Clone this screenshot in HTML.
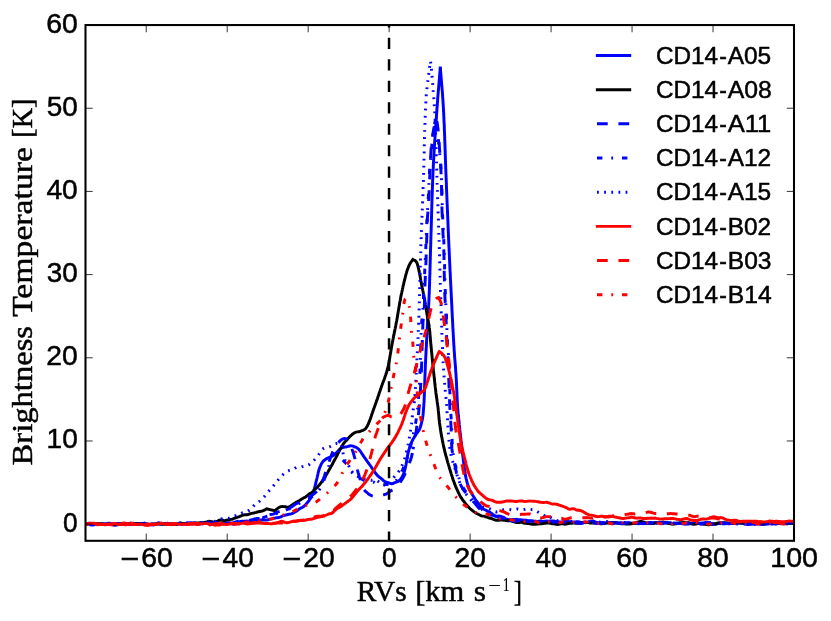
<!DOCTYPE html>
<html lang="en"><head><meta charset="utf-8"><title>Brightness Temperature vs RVs</title>
<style>html,body{margin:0;padding:0;background:#fff}body{width:831px;height:621px;overflow:hidden}svg{display:block;will-change:transform}text{font-family:"Liberation Sans",sans-serif;fill:#000}.sf{font-family:"Liberation Serif",serif}</style></head><body>
<svg width="831" height="621" viewBox="0 0 831 621">
<rect width="831" height="621" fill="#fff"/>
<defs><clipPath id="ax"><rect x="85.50" y="25.05" width="708.50" height="515.75"/></clipPath></defs>
<g clip-path="url(#ax)" fill="none" stroke-width="2.950" stroke-linejoin="miter" stroke-miterlimit="3">
<path id="A05" d="M85.6 524.2 L86.8 524.1 L88.0 523.9 L89.2 523.8 L90.4 523.8 L91.6 523.8 L92.8 523.9 L94.0 524.0 L95.2 524.0 L96.4 524.1 L97.6 524.2 L98.8 524.3 L100.0 524.2 L101.2 524.3 L102.4 524.1 L103.6 524.1 L104.8 524.0 L106.0 523.9 L107.2 523.7 L108.4 523.3 L109.6 523.3 L110.8 523.5 L112.0 524.1 L113.2 524.8 L114.4 525.1 L115.6 525.2 L116.8 524.9 L118.0 524.7 L119.2 524.4 L120.4 524.2 L121.6 524.0 L122.8 523.9 L124.0 524.0 L125.2 524.1 L126.4 524.3 L127.6 524.4 L128.9 524.3 L130.1 524.3 L131.3 524.2 L132.5 524.1 L133.7 523.9 L134.9 523.7 L136.1 523.5 L137.3 523.5 L138.5 523.5 L139.7 523.7 L140.9 523.9 L142.1 524.0 L143.3 524.1 L144.5 524.1 L145.7 524.1 L146.9 524.1 L148.1 524.2 L149.3 524.5 L150.5 524.7 L151.7 524.9 L152.9 525.0 L154.1 524.7 L155.3 524.4 L156.5 524.1 L157.7 523.9 L158.9 523.9 L160.1 524.0 L161.3 523.9 L162.5 523.9 L163.7 523.8 L164.9 523.8 L166.1 523.7 L167.3 523.8 L168.5 523.9 L169.7 524.0 L170.9 524.2 L172.1 524.5 L173.3 524.6 L174.5 524.6 L175.7 524.5 L176.9 524.1 L178.1 524.0 L179.3 524.0 L180.5 524.0 L181.7 524.3 L182.9 524.2 L184.1 523.8 L185.3 523.6 L186.5 523.3 L187.7 523.2 L188.9 523.4 L190.2 523.6 L191.4 523.7 L192.6 523.7 L193.8 523.8 L195.0 523.8 L196.2 523.9 L197.4 524.0 L198.6 524.0 L199.8 524.1 L201.0 523.9 L202.2 523.8 L203.4 523.5 L204.6 523.1 L205.8 523.1 L207.0 522.9 L208.2 523.1 L209.4 523.3 L210.6 523.5 L211.8 523.7 L213.0 523.8 L214.2 523.8 L215.4 523.8 L216.6 523.8 L217.8 523.9 L219.0 523.9 L220.2 523.9 L221.4 523.7 L222.6 523.5 L223.8 523.4 L225.0 523.2 L226.2 523.2 L227.4 523.0 L228.6 522.9 L229.8 523.0 L231.0 523.3 L232.1 523.8 L233.3 524.2 L234.5 524.1 L235.7 524.0 L236.9 523.7 L238.1 523.3 L239.3 523.0 L240.5 522.6 L241.7 522.0 L242.9 521.5 L244.1 521.2 L245.3 521.1 L246.5 521.0 L247.7 521.3 L248.8 521.6 L250.0 521.6 L251.2 521.6 L252.4 521.3 L253.6 520.7 L254.8 520.2 L256.0 520.1 L257.2 520.0 L258.4 520.1 L259.6 520.1 L260.8 519.9 L262.0 519.9 L263.2 519.9 L264.4 520.0 L265.6 520.1 L266.8 520.0 L268.0 519.8 L269.2 519.4 L270.4 519.1 L271.6 518.9 L272.8 518.5 L274.0 518.3 L275.1 518.1 L276.3 517.7 L277.5 517.8 L278.7 517.5 L279.8 517.2 L281.0 516.8 L282.2 516.0 L283.4 515.6 L284.5 515.3 L285.7 515.0 L286.8 514.8 L288.0 514.5 L289.1 514.2 L290.2 514.1 L291.3 513.8 L292.4 513.3 L293.5 512.8 L294.5 512.3 L295.6 511.7 L296.6 511.1 L297.7 510.4 L298.7 509.5 L299.7 508.7 L300.7 508.1 L301.6 507.7 L302.6 507.2 L303.6 506.6 L304.5 505.7 L305.5 504.7 L306.4 503.8 L307.2 502.8 L308.0 501.9 L308.7 501.0 L309.4 500.0 L310.0 499.1 L310.6 498.0 L311.1 496.9 L311.6 495.8 L312.1 494.7 L312.6 493.6 L313.1 492.4 L313.5 491.3 L313.9 490.1 L314.3 489.0 L314.6 487.9 L314.9 486.7 L315.2 485.6 L315.5 484.4 L315.8 483.2 L316.0 482.0 L316.3 480.9 L316.6 479.7 L316.9 478.5 L317.2 477.3 L317.4 476.2 L317.7 475.0 L318.0 473.8 L318.2 472.6 L318.5 471.5 L318.9 470.3 L319.2 469.2 L319.6 468.0 L320.0 466.9 L320.5 465.8 L321.0 464.6 L321.6 463.6 L322.2 462.5 L322.9 461.6 L323.7 460.7 L324.7 460.0 L325.7 459.3 L326.7 458.6 L327.8 458.0 L328.8 457.6 L329.9 457.2 L331.0 456.7 L332.1 456.2 L333.2 455.5 L334.2 454.7 L335.1 453.9 L336.0 453.1 L336.9 452.2 L337.8 451.2 L338.7 450.3 L339.6 449.4 L340.6 448.6 L341.6 448.0 L342.6 447.5 L343.7 447.2 L344.8 447.0 L345.9 447.0 L347.1 446.7 L348.3 446.3 L349.5 446.0 L350.7 445.8 L351.9 445.9 L353.0 446.1 L354.2 446.6 L355.4 447.0 L356.4 447.6 L357.4 448.2 L358.3 448.9 L359.1 449.7 L359.8 450.5 L360.5 451.5 L361.2 452.5 L361.9 453.6 L362.6 454.6 L363.2 455.7 L363.9 456.7 L364.6 457.7 L365.3 458.6 L366.0 459.6 L366.7 460.6 L367.4 461.6 L368.1 462.6 L368.8 463.5 L369.5 464.5 L370.2 465.5 L370.9 466.5 L371.6 467.5 L372.2 468.5 L372.9 469.5 L373.6 470.5 L374.4 471.5 L375.1 472.5 L375.8 473.6 L376.6 474.5 L377.4 475.4 L378.2 476.2 L379.0 476.9 L379.8 477.5 L380.7 478.2 L381.7 479.0 L382.7 479.9 L383.8 480.9 L384.9 481.6 L386.0 482.0 L387.1 482.3 L388.2 482.7 L389.4 483.2 L390.6 483.6 L391.7 483.7 L392.9 483.5 L394.1 482.9 L395.3 482.5 L396.4 482.0 L397.5 481.7 L398.5 481.2 L399.4 480.4 L400.3 479.4 L401.1 478.4 L401.9 477.3 L402.4 476.3 L403.0 475.3 L403.5 474.2 L403.9 473.0 L404.3 471.9 L404.6 470.7 L404.9 469.6 L405.2 468.4 L405.5 467.2 L405.7 466.0 L406.0 464.8 L406.2 463.7 L406.4 462.5 L406.6 461.3 L406.8 460.1 L407.0 458.9 L407.2 457.7 L407.4 456.6 L407.6 455.4 L407.9 454.2 L408.1 453.0 L408.4 451.9 L408.7 450.7 L409.0 449.5 L409.4 448.4 L409.7 447.2 L410.1 446.1 L410.5 445.0 L410.9 443.8 L411.4 442.7 L411.9 441.6 L412.4 440.5 L412.9 439.5 L413.5 438.4 L414.1 437.4 L414.7 436.4 L415.4 435.3 L416.1 434.3 L416.7 433.3 L417.5 432.3 L418.2 431.3 L418.9 430.4 L419.5 429.4 L419.9 428.3 L420.3 427.2 L420.7 426.0 L421.0 424.8 L421.3 423.7 L421.6 422.5 L421.9 421.3 L422.2 420.2 L422.4 419.0 L422.6 417.8 L422.8 416.6 L423.0 415.4 L423.1 414.2 L423.2 413.0 L423.3 411.8 L423.4 410.6 L423.5 409.4 L423.6 408.2 L423.7 407.0 L423.8 405.8 L423.8 404.7 L423.9 403.5 L424.0 402.3 L424.1 401.1 L424.1 399.9 L424.2 398.7 L424.2 397.5 L424.3 396.3 L424.3 395.0 L424.4 393.8 L424.4 392.6 L424.4 391.4 L424.5 390.2 L424.5 389.0 L424.6 387.8 L424.6 386.6 L424.7 385.4 L424.7 384.2 L424.7 383.0 L424.8 381.8 L424.8 380.6 L424.9 379.4 L424.9 378.2 L424.9 377.0 L425.0 375.8 L425.0 374.6 L425.1 373.4 L425.1 372.2 L425.2 371.0 L425.2 369.8 L425.3 368.6 L425.3 367.4 L425.3 366.2 L425.4 365.0 L425.5 363.8 L425.5 362.6 L425.6 361.4 L425.6 360.2 L425.7 359.0 L425.7 357.8 L425.8 356.6 L425.9 355.4 L425.9 354.2 L426.0 353.0 L426.0 351.8 L426.1 350.6 L426.2 349.4 L426.2 348.2 L426.3 347.0 L426.4 345.8 L426.4 344.6 L426.5 343.4 L426.5 342.2 L426.6 341.0 L426.7 339.8 L426.7 338.6 L426.8 337.4 L426.8 336.2 L426.9 335.0 L427.0 333.8 L427.0 332.6 L427.1 331.4 L427.2 330.2 L427.2 329.0 L427.3 327.8 L427.3 326.6 L427.4 325.4 L427.5 324.2 L427.5 323.0 L427.6 321.8 L427.7 320.6 L427.8 319.4 L427.8 318.2 L427.9 317.0 L428.0 315.8 L428.1 314.6 L428.2 313.4 L428.2 312.2 L428.3 311.0 L428.4 309.8 L428.5 308.6 L428.5 307.5 L428.6 306.3 L428.7 305.1 L428.8 303.9 L428.8 302.7 L428.9 301.5 L428.9 300.3 L429.0 299.1 L429.0 297.9 L429.1 296.7 L429.1 295.5 L429.2 294.3 L429.2 293.1 L429.3 291.9 L429.3 290.7 L429.4 289.5 L429.4 288.3 L429.4 287.1 L429.5 285.9 L429.5 284.6 L429.6 283.4 L429.6 282.2 L429.6 281.0 L429.7 279.8 L429.7 278.6 L429.7 277.4 L429.8 276.2 L429.8 275.0 L429.9 273.8 L429.9 272.6 L429.9 271.4 L430.0 270.2 L430.0 269.0 L430.0 267.8 L430.1 266.6 L430.1 265.4 L430.1 264.2 L430.2 263.0 L430.2 261.8 L430.2 260.6 L430.3 259.4 L430.3 258.2 L430.3 257.0 L430.4 255.8 L430.4 254.6 L430.4 253.4 L430.5 252.2 L430.5 251.0 L430.5 249.8 L430.6 248.6 L430.6 247.4 L430.7 246.2 L430.7 245.0 L430.7 243.8 L430.8 242.6 L430.8 241.4 L430.8 240.2 L430.9 239.0 L430.9 237.8 L430.9 236.6 L431.0 235.4 L431.0 234.2 L431.0 233.0 L431.1 231.8 L431.1 230.6 L431.2 229.4 L431.2 228.2 L431.2 227.0 L431.3 225.8 L431.3 224.6 L431.3 223.4 L431.4 222.2 L431.4 221.0 L431.4 219.8 L431.5 218.6 L431.5 217.4 L431.5 216.2 L431.6 215.0 L431.6 213.8 L431.6 212.6 L431.7 211.4 L431.7 210.2 L431.7 209.0 L431.8 207.8 L431.8 206.6 L431.8 205.4 L431.9 204.2 L431.9 203.0 L431.9 201.8 L432.0 200.6 L432.0 199.4 L432.1 198.2 L432.1 197.0 L432.1 195.8 L432.2 194.6 L432.2 193.4 L432.3 192.2 L432.3 191.0 L432.3 189.8 L432.4 188.6 L432.4 187.4 L432.5 186.2 L432.5 185.0 L432.6 183.8 L432.6 182.6 L432.6 181.4 L432.7 180.2 L432.7 179.0 L432.8 177.8 L432.8 176.6 L432.9 175.4 L432.9 174.2 L433.0 173.0 L433.0 171.8 L433.1 170.6 L433.2 169.4 L433.2 168.2 L433.3 167.0 L433.3 165.8 L433.4 164.6 L433.4 163.4 L433.5 162.2 L433.6 161.0 L433.6 159.8 L433.7 158.6 L433.8 157.4 L433.8 156.2 L433.9 155.0 L434.0 153.8 L434.0 152.6 L434.1 151.4 L434.2 150.2 L434.3 149.0 L434.3 147.8 L434.4 146.6 L434.5 145.4 L434.6 144.2 L434.6 143.0 L434.7 141.8 L434.8 140.6 L434.9 139.4 L435.0 138.2 L435.0 137.0 L435.1 135.8 L435.2 134.6 L435.3 133.4 L435.4 132.2 L435.4 131.0 L435.5 129.8 L435.6 128.6 L435.7 127.4 L435.8 126.2 L435.8 125.0 L435.9 123.8 L436.0 122.6 L436.1 121.4 L436.2 120.2 L436.3 119.0 L436.4 117.8 L436.4 116.6 L436.5 115.4 L436.6 114.2 L436.7 113.0 L436.8 111.8 L436.9 110.6 L436.9 109.4 L437.0 108.2 L437.1 107.0 L437.2 105.8 L437.3 104.6 L437.4 103.4 L437.5 102.2 L437.6 101.0 L437.6 99.8 L437.7 98.6 L437.8 97.4 L437.9 96.2 L438.0 95.0 L438.1 93.8 L438.2 92.6 L438.3 91.4 L438.4 90.2 L438.5 89.1 L438.6 87.9 L438.7 86.7 L438.8 85.5 L438.9 84.3 L439.0 83.1 L439.1 81.9 L439.2 80.7 L439.3 79.5 L439.4 78.3 L439.5 77.1 L439.6 75.9 L439.7 74.7 L439.8 73.5 L439.9 72.3 L440.0 71.1 L440.1 69.9 L440.2 68.7 L440.3 66.6 L440.4 68.7 L440.5 69.9 L440.6 71.1 L440.7 72.3 L440.8 73.5 L440.9 74.7 L441.0 75.9 L441.1 77.1 L441.2 78.3 L441.3 79.5 L441.4 80.7 L441.5 81.9 L441.6 83.1 L441.7 84.3 L441.8 85.5 L441.9 86.7 L442.0 87.9 L442.1 89.1 L442.2 90.3 L442.3 91.4 L442.4 92.6 L442.5 93.8 L442.6 95.0 L442.6 96.2 L442.7 97.4 L442.8 98.6 L442.9 99.8 L443.0 101.0 L443.0 102.2 L443.1 103.4 L443.2 104.6 L443.3 105.8 L443.3 107.0 L443.4 108.2 L443.5 109.4 L443.5 110.6 L443.6 111.8 L443.7 113.0 L443.7 114.2 L443.8 115.4 L443.8 116.6 L443.9 117.8 L443.9 119.0 L444.0 120.2 L444.0 121.4 L444.1 122.6 L444.2 123.8 L444.2 125.0 L444.3 126.2 L444.3 127.4 L444.3 128.6 L444.4 129.8 L444.4 131.0 L444.5 132.2 L444.5 133.4 L444.6 134.6 L444.6 135.8 L444.7 137.0 L444.7 138.2 L444.7 139.4 L444.8 140.6 L444.8 141.8 L444.9 143.0 L444.9 144.2 L445.0 145.4 L445.0 146.6 L445.0 147.8 L445.1 149.0 L445.1 150.2 L445.2 151.4 L445.2 152.6 L445.2 153.8 L445.3 155.0 L445.3 156.2 L445.4 157.4 L445.4 158.6 L445.4 159.8 L445.5 161.0 L445.5 162.2 L445.6 163.4 L445.6 164.6 L445.7 165.8 L445.7 167.0 L445.7 168.2 L445.8 169.4 L445.8 170.6 L445.9 171.8 L445.9 173.0 L446.0 174.2 L446.0 175.4 L446.1 176.6 L446.1 177.8 L446.2 179.0 L446.2 180.2 L446.3 181.4 L446.3 182.6 L446.4 183.8 L446.4 185.0 L446.4 186.2 L446.5 187.4 L446.5 188.6 L446.6 189.8 L446.6 191.0 L446.7 192.2 L446.7 193.4 L446.8 194.6 L446.8 195.8 L446.9 197.0 L446.9 198.2 L447.0 199.4 L447.0 200.6 L447.1 201.8 L447.1 203.0 L447.2 204.2 L447.2 205.4 L447.3 206.6 L447.3 207.8 L447.4 209.0 L447.4 210.2 L447.5 211.4 L447.5 212.6 L447.6 213.8 L447.6 215.0 L447.7 216.2 L447.7 217.4 L447.8 218.6 L447.8 219.8 L447.9 221.0 L447.9 222.2 L448.0 223.4 L448.0 224.6 L448.1 225.9 L448.1 227.1 L448.2 228.3 L448.2 229.5 L448.3 230.7 L448.3 231.9 L448.4 233.1 L448.4 234.3 L448.5 235.5 L448.5 236.7 L448.6 237.9 L448.6 239.1 L448.7 240.3 L448.7 241.5 L448.8 242.7 L448.8 243.9 L448.9 245.1 L448.9 246.3 L449.0 247.5 L449.1 248.7 L449.1 249.9 L449.2 251.1 L449.2 252.3 L449.3 253.5 L449.3 254.7 L449.4 255.9 L449.4 257.1 L449.5 258.3 L449.5 259.5 L449.6 260.7 L449.7 261.9 L449.7 263.1 L449.8 264.3 L449.8 265.5 L449.9 266.7 L449.9 267.9 L450.0 269.1 L450.0 270.3 L450.1 271.5 L450.2 272.7 L450.2 273.8 L450.3 275.0 L450.3 276.2 L450.4 277.4 L450.4 278.6 L450.5 279.8 L450.6 281.0 L450.6 282.2 L450.7 283.4 L450.7 284.6 L450.8 285.8 L450.9 287.0 L450.9 288.2 L451.0 289.4 L451.0 290.6 L451.1 291.8 L451.2 293.0 L451.2 294.2 L451.3 295.4 L451.3 296.6 L451.4 297.8 L451.5 299.0 L451.5 300.2 L451.6 301.4 L451.6 302.6 L451.7 303.8 L451.8 305.0 L451.8 306.2 L451.9 307.4 L451.9 308.6 L452.0 309.8 L452.0 311.0 L452.1 312.2 L452.2 313.4 L452.2 314.6 L452.3 315.8 L452.3 317.0 L452.4 318.2 L452.5 319.4 L452.5 320.6 L452.6 321.8 L452.7 323.0 L452.7 324.2 L452.8 325.4 L452.8 326.6 L452.9 327.8 L453.0 329.0 L453.0 330.2 L453.1 331.4 L453.2 332.6 L453.2 333.8 L453.3 335.0 L453.4 336.2 L453.4 337.4 L453.5 338.6 L453.6 339.8 L453.6 341.0 L453.7 342.2 L453.8 343.4 L453.8 344.6 L453.9 345.8 L454.0 347.0 L454.1 348.2 L454.1 349.4 L454.2 350.6 L454.3 351.8 L454.4 353.0 L454.5 354.2 L454.5 355.4 L454.6 356.6 L454.7 357.8 L454.8 359.0 L454.9 360.2 L455.0 361.4 L455.1 362.6 L455.2 363.8 L455.3 365.0 L455.4 366.2 L455.5 367.4 L455.6 368.6 L455.6 369.8 L455.7 371.0 L455.8 372.2 L455.9 373.4 L456.0 374.6 L456.1 375.8 L456.1 377.0 L456.2 378.2 L456.3 379.4 L456.3 380.6 L456.4 381.8 L456.5 383.0 L456.5 384.2 L456.6 385.4 L456.6 386.6 L456.7 387.8 L456.7 389.0 L456.8 390.2 L456.8 391.4 L456.9 392.6 L456.9 393.8 L457.0 395.0 L457.0 396.2 L457.1 397.4 L457.1 398.6 L457.2 399.8 L457.3 401.0 L457.3 402.2 L457.4 403.4 L457.5 404.6 L457.5 405.8 L457.6 407.0 L457.7 408.2 L457.8 409.4 L457.9 410.6 L458.0 411.8 L458.1 413.0 L458.2 414.2 L458.3 415.3 L458.5 416.5 L458.6 417.7 L458.7 418.9 L458.8 420.1 L459.0 421.3 L459.1 422.5 L459.2 423.7 L459.3 424.9 L459.5 426.1 L459.6 427.3 L459.7 428.5 L459.8 429.7 L460.0 430.9 L460.1 432.1 L460.2 433.3 L460.4 434.5 L460.5 435.7 L460.6 436.8 L460.8 438.0 L460.9 439.2 L461.0 440.4 L461.2 441.6 L461.3 442.8 L461.5 444.0 L461.6 445.2 L461.7 446.4 L461.9 447.6 L462.0 448.8 L462.1 450.0 L462.3 451.2 L462.4 452.4 L462.5 453.6 L462.7 454.8 L462.8 455.9 L463.0 457.1 L463.1 458.3 L463.3 459.5 L463.4 460.7 L463.6 461.9 L463.7 463.1 L463.9 464.3 L464.1 465.5 L464.2 466.7 L464.4 467.9 L464.5 469.1 L464.7 470.3 L464.9 471.4 L465.0 472.6 L465.2 473.8 L465.4 475.0 L465.6 476.2 L465.9 477.4 L466.1 478.5 L466.4 479.7 L466.7 480.9 L467.0 482.0 L467.3 483.2 L467.7 484.4 L468.1 485.5 L468.5 486.6 L468.9 487.7 L469.3 488.8 L469.8 489.9 L470.4 491.0 L470.9 492.1 L471.5 493.1 L472.1 494.2 L472.7 495.2 L473.4 496.3 L474.0 497.3 L474.7 498.3 L475.3 499.3 L476.0 500.3 L476.7 501.2 L477.4 502.1 L478.2 503.1 L478.9 504.0 L479.7 505.0 L480.5 506.0 L481.4 506.9 L482.2 507.9 L483.1 508.7 L484.0 509.3 L484.9 509.8 L485.8 510.2 L486.8 510.7 L487.8 511.3 L488.8 511.7 L489.9 512.3 L490.9 513.0 L492.0 513.7 L493.2 514.8 L494.3 515.6 L495.4 516.0 L496.6 516.3 L497.7 516.2 L498.8 516.0 L500.0 516.1 L501.1 516.3 L502.3 516.8 L503.5 517.4 L504.7 518.1 L505.9 518.9 L507.1 519.2 L508.3 519.7 L509.5 519.7 L510.7 519.7 L511.9 519.7 L513.1 519.4 L514.3 519.5 L515.5 519.4 L516.7 519.3 L517.9 519.5 L519.1 519.6 L520.3 519.8 L521.5 520.0 L522.7 520.0 L523.9 520.1 L525.1 520.2 L526.3 520.3 L527.5 520.5 L528.7 520.6 L529.9 520.6 L531.1 520.8 L532.3 521.0 L533.5 521.3 L534.7 521.3 L535.9 521.3 L537.1 521.4 L538.3 521.4 L539.5 521.6 L540.7 521.5 L541.9 521.5 L543.1 521.4 L544.3 521.3 L545.5 521.3 L546.7 521.1 L547.9 521.2 L549.1 521.3 L550.3 521.6 L551.5 521.8 L552.7 521.9 L553.9 521.8 L555.1 521.5 L556.3 521.5 L557.5 521.6 L558.7 521.9 L559.9 522.1 L561.1 522.1 L562.3 522.0 L563.5 521.6 L564.7 521.4 L565.9 521.3 L567.1 521.2 L568.3 521.5 L569.5 521.6 L570.7 521.8 L571.9 522.1 L573.1 522.1 L574.3 522.2 L575.5 522.1 L576.7 521.9 L577.9 522.0 L579.1 522.1 L580.3 522.3 L581.5 522.5 L582.7 522.5 L583.9 522.4 L585.1 522.2 L586.3 522.2 L587.5 522.2 L588.7 522.0 L589.9 521.8 L591.1 521.4 L592.3 521.1 L593.5 521.2 L594.7 521.6 L595.9 522.2 L597.1 522.6 L598.3 522.7 L599.5 522.6 L600.7 522.5 L601.9 522.7 L603.1 522.9 L604.3 523.2 L605.5 523.3 L606.7 523.1 L607.9 522.8 L609.1 522.5 L610.3 522.4 L611.5 522.4 L612.7 522.4 L613.9 522.5 L615.1 522.5 L616.3 522.6 L617.5 522.8 L618.7 522.9 L619.9 523.2 L621.1 523.3 L622.3 523.3 L623.5 523.4 L624.7 523.2 L625.9 523.3 L627.1 523.1 L628.3 522.8 L629.5 522.8 L630.7 522.9 L631.9 523.1 L633.1 523.3 L634.3 523.5 L635.5 523.4 L636.7 523.3 L637.9 523.4 L639.1 523.3 L640.3 523.3 L641.5 523.3 L642.7 523.3 L644.0 523.4 L645.2 523.4 L646.4 523.3 L647.6 522.9 L648.8 522.7 L650.0 522.7 L651.2 522.6 L652.4 522.7 L653.6 522.8 L654.8 522.6 L656.0 522.7 L657.2 522.8 L658.4 522.7 L659.6 522.8 L660.8 522.6 L662.0 522.5 L663.2 522.7 L664.4 522.8 L665.6 523.0 L666.8 523.0 L668.0 522.8 L669.2 522.8 L670.4 523.0 L671.6 523.5 L672.8 523.7 L674.0 523.7 L675.2 523.4 L676.4 523.2 L677.6 523.0 L678.8 523.1 L680.0 523.4 L681.2 523.6 L682.4 523.8 L683.6 523.9 L684.8 524.0 L686.0 523.9 L687.2 524.0 L688.4 524.0 L689.6 523.8 L690.8 523.8 L692.0 523.5 L693.2 523.3 L694.4 523.2 L695.6 523.0 L696.8 523.0 L698.0 523.3 L699.2 523.5 L700.4 523.9 L701.6 523.9 L702.8 523.7 L704.0 523.3 L705.2 522.8 L706.4 522.7 L707.6 522.7 L708.8 522.9 L710.0 523.3 L711.2 523.5 L712.4 524.0 L713.6 524.3 L714.8 524.3 L716.0 524.2 L717.2 523.8 L718.4 523.2 L719.6 523.0 L720.8 522.6 L722.0 522.6 L723.2 522.6 L724.4 522.8 L725.6 523.3 L726.8 523.4 L728.0 523.7 L729.2 523.7 L730.4 523.6 L731.6 523.6 L732.8 523.3 L734.0 523.0 L735.2 522.9 L736.4 522.7 L737.6 522.9 L738.8 523.1 L740.0 523.1 L741.2 523.3 L742.4 523.2 L743.6 523.4 L744.8 523.7 L746.0 523.9 L747.3 524.0 L748.5 523.8 L749.7 523.5 L750.9 523.5 L752.1 523.5 L753.3 523.8 L754.5 524.0 L755.7 524.0 L756.9 524.0 L758.1 524.0 L759.3 524.1 L760.5 524.3 L761.7 524.5 L762.9 524.6 L764.1 524.4 L765.3 524.1 L766.5 523.8 L767.7 523.5 L768.9 523.6 L770.1 523.6 L771.3 524.0 L772.5 524.1 L773.7 523.9 L774.9 523.8 L776.1 523.5 L777.3 523.4 L778.5 523.5 L779.7 523.6 L780.9 523.7 L782.1 523.5 L783.3 523.4 L784.5 523.2 L785.7 523.1 L786.9 523.1 L788.1 522.9 L789.3 522.7 L790.5 522.7 L791.7 522.7 L792.9 522.9 L794.1 523.1" stroke="#0000ff"/>
<path id="A08" d="M85.6 524.2 L86.8 523.8 L88.0 523.5 L89.2 523.2 L90.4 523.3 L91.6 523.5 L92.8 523.7 L94.0 523.8 L95.2 523.7 L96.4 523.6 L97.6 523.7 L98.8 523.7 L100.0 523.8 L101.2 523.8 L102.4 523.8 L103.6 523.9 L104.9 524.1 L106.1 524.3 L107.3 524.3 L108.5 524.3 L109.7 524.4 L110.9 524.4 L112.1 524.6 L113.3 524.8 L114.5 524.6 L115.7 524.4 L116.9 524.2 L118.1 523.9 L119.3 523.7 L120.5 523.6 L121.7 523.6 L122.9 523.6 L124.1 523.7 L125.3 523.8 L126.5 524.0 L127.7 524.1 L128.9 524.2 L130.1 524.3 L131.3 524.0 L132.5 524.0 L133.7 523.8 L134.9 523.7 L136.1 523.8 L137.3 523.8 L138.5 524.0 L139.7 523.8 L140.9 523.7 L142.1 523.5 L143.3 523.4 L144.5 523.6 L145.7 524.0 L146.9 524.3 L148.1 524.5 L149.3 524.6 L150.5 524.5 L151.7 524.3 L152.9 524.2 L154.1 523.9 L155.3 523.8 L156.5 523.7 L157.7 523.6 L158.9 523.9 L160.1 524.0 L161.3 524.1 L162.5 524.3 L163.8 524.1 L165.0 524.0 L166.2 524.0 L167.4 523.8 L168.6 523.9 L169.8 524.1 L171.0 524.2 L172.2 524.5 L173.4 524.6 L174.6 524.6 L175.8 524.4 L177.0 524.0 L178.2 523.6 L179.4 523.2 L180.6 523.0 L181.8 523.3 L183.0 523.4 L184.2 523.7 L185.4 523.8 L186.6 523.6 L187.8 523.4 L189.0 523.2 L190.2 523.2 L191.4 523.1 L192.6 523.1 L193.8 523.0 L195.0 523.0 L196.2 523.0 L197.4 522.9 L198.6 522.9 L199.8 522.8 L201.0 522.8 L202.2 522.7 L203.4 522.8 L204.6 522.5 L205.7 522.2 L206.9 521.9 L208.1 521.5 L209.3 521.3 L210.5 521.5 L211.7 521.7 L212.9 521.9 L214.1 522.2 L215.3 522.1 L216.5 521.6 L217.7 521.1 L218.9 520.4 L220.1 520.1 L221.3 520.2 L222.5 520.3 L223.7 520.5 L224.9 520.6 L226.1 520.3 L227.3 520.1 L228.5 519.7 L229.7 519.5 L230.8 519.4 L232.0 519.2 L233.1 518.9 L234.3 518.3 L235.4 517.9 L236.5 517.5 L237.6 517.1 L238.7 516.8 L239.8 516.4 L241.0 515.9 L242.1 515.4 L243.3 515.1 L244.5 514.8 L245.7 514.8 L246.8 514.7 L248.0 514.5 L249.2 514.1 L250.4 513.7 L251.6 513.4 L252.8 513.1 L254.0 513.0 L255.1 512.7 L256.3 512.4 L257.5 512.0 L258.6 511.7 L259.8 511.5 L260.9 511.3 L262.1 511.1 L263.2 510.7 L264.4 510.2 L265.5 509.5 L266.6 508.9 L274.6 510.7 L275.5 510.1 L276.4 509.3 L277.4 508.6 L278.4 507.9 L279.4 507.2 L280.5 506.8 L281.6 506.6 L282.8 506.5 L284.1 506.6 L285.3 506.8 L286.5 507.0 L287.7 507.1 L288.8 506.9 L290.0 506.5 L291.1 505.7 L292.2 504.9 L293.3 504.1 L294.3 503.4 L295.4 502.7 L296.5 502.1 L297.6 501.6 L298.6 501.0 L299.7 500.5 L300.7 499.7 L301.8 499.0 L302.8 498.4 L303.8 497.8 L304.8 497.4 L305.9 496.7 L306.9 495.9 L307.9 495.1 L308.9 494.3 L309.9 493.6 L310.9 493.1 L311.9 492.5 L312.8 491.7 L313.7 490.8 L314.5 489.9 L315.4 489.0 L316.2 488.2 L317.0 487.5 L317.8 486.7 L318.6 485.8 L319.3 485.0 L320.1 484.0 L320.8 483.1 L321.5 482.1 L322.2 481.1 L322.9 480.0 L323.6 479.0 L324.3 478.0 L324.9 477.0 L325.5 476.0 L326.2 475.0 L326.8 473.9 L327.4 472.9 L328.0 471.9 L328.6 470.8 L329.2 469.8 L329.8 468.7 L330.4 467.7 L331.0 466.6 L331.6 465.6 L332.2 464.5 L332.7 463.5 L333.3 462.4 L333.9 461.3 L334.4 460.3 L335.0 459.2 L335.6 458.1 L336.1 457.1 L336.7 456.0 L337.3 455.0 L337.8 453.9 L338.4 452.8 L338.9 451.7 L339.5 450.6 L340.0 449.5 L340.6 448.5 L341.2 447.4 L341.7 446.4 L342.4 445.3 L343.0 444.3 L343.7 443.4 L344.4 442.5 L345.1 441.7 L345.9 440.9 L346.8 440.0 L347.6 439.0 L348.5 437.9 L349.4 436.9 L350.3 436.0 L351.2 435.3 L352.1 434.5 L353.1 433.7 L354.1 433.0 L355.1 432.5 L356.1 432.1 L357.2 431.9 L358.3 431.8 L359.6 431.6 L360.8 431.1 L361.9 430.7 L363.0 430.3 L364.0 429.8 L365.0 429.2 L365.9 428.3 L366.7 427.1 L367.3 426.0 L367.8 425.0 L368.3 423.9 L368.8 422.7 L369.3 421.6 L369.7 420.4 L370.2 419.3 L370.6 418.2 L371.0 417.1 L371.4 415.9 L371.7 414.8 L372.1 413.6 L372.5 412.5 L372.9 411.3 L373.3 410.2 L373.7 409.1 L374.1 407.9 L374.5 406.8 L374.9 405.7 L375.3 404.5 L375.7 403.4 L376.1 402.3 L376.5 401.1 L376.9 400.0 L377.3 398.9 L377.7 397.7 L378.1 396.6 L378.5 395.4 L378.9 394.3 L379.2 393.2 L379.6 392.0 L380.0 390.9 L380.4 389.7 L380.8 388.6 L381.2 387.5 L381.6 386.3 L382.0 385.2 L382.4 384.1 L382.8 382.9 L383.2 381.8 L383.6 380.7 L384.1 379.5 L384.5 378.4 L384.9 377.2 L385.3 376.1 L385.7 375.0 L386.1 373.8 L386.4 372.7 L386.8 371.5 L387.1 370.4 L387.4 369.2 L387.7 368.1 L388.0 366.9 L388.3 365.8 L388.5 364.6 L388.8 363.4 L389.0 362.2 L389.2 361.0 L389.4 359.9 L389.6 358.7 L389.8 357.5 L390.0 356.3 L390.2 355.1 L390.4 353.9 L390.6 352.7 L390.8 351.5 L391.0 350.3 L391.2 349.1 L391.4 348.0 L391.6 346.8 L391.8 345.6 L392.0 344.4 L392.3 343.2 L392.5 342.0 L392.7 340.9 L392.9 339.7 L393.2 338.5 L393.4 337.3 L393.6 336.1 L393.9 334.9 L394.1 333.8 L394.3 332.6 L394.6 331.4 L394.8 330.2 L395.1 329.0 L395.3 327.9 L395.5 326.7 L395.8 325.5 L396.0 324.3 L396.2 323.1 L396.4 322.0 L396.7 320.8 L396.9 319.6 L397.1 318.4 L397.3 317.2 L397.5 316.0 L397.7 314.8 L397.9 313.7 L398.1 312.5 L398.3 311.3 L398.5 310.1 L398.7 308.9 L398.9 307.7 L399.1 306.5 L399.3 305.4 L399.5 304.2 L399.7 303.0 L399.9 301.8 L400.2 300.6 L400.4 299.4 L400.6 298.2 L400.8 297.1 L401.0 295.9 L401.3 294.7 L401.5 293.5 L401.8 292.3 L402.0 291.2 L402.3 290.0 L402.5 288.8 L402.8 287.6 L403.0 286.5 L403.3 285.3 L403.6 284.1 L403.8 282.9 L404.1 281.8 L404.4 280.6 L404.7 279.4 L405.0 278.3 L405.3 277.1 L405.6 275.9 L405.9 274.7 L406.2 273.6 L406.6 272.4 L406.9 271.2 L407.3 270.1 L407.7 269.0 L408.1 267.9 L408.5 266.8 L409.0 265.7 L409.5 264.6 L410.1 263.6 L410.7 262.5 L411.4 261.5 L412.1 260.5 L412.8 259.5 L414.0 260.1 L415.1 260.6 L416.0 261.4 L416.6 262.3 L417.1 263.3 L417.5 264.4 L417.8 265.6 L418.1 266.9 L418.4 268.1 L418.7 269.3 L418.9 270.4 L419.2 271.6 L419.4 272.8 L419.7 274.0 L419.9 275.1 L420.1 276.3 L420.3 277.5 L420.5 278.7 L420.7 279.9 L420.9 281.1 L421.2 282.3 L421.4 283.4 L421.6 284.6 L421.9 285.8 L422.1 287.0 L422.3 288.1 L422.6 289.3 L422.8 290.5 L423.1 291.7 L423.3 292.9 L423.5 294.0 L423.8 295.2 L424.0 296.4 L424.2 297.6 L424.4 298.7 L424.6 299.9 L424.9 301.1 L425.1 302.3 L425.3 303.5 L425.4 304.7 L425.6 305.9 L425.8 307.0 L426.0 308.2 L426.2 309.4 L426.4 310.6 L426.6 311.8 L426.8 313.0 L427.0 314.2 L427.2 315.3 L427.4 316.5 L427.6 317.7 L427.8 318.9 L428.0 320.1 L428.3 321.3 L428.5 322.4 L428.7 323.6 L428.9 324.8 L429.1 326.0 L429.2 327.2 L429.4 328.4 L429.5 329.6 L429.7 330.7 L429.8 331.9 L429.9 333.1 L430.0 334.3 L430.1 335.5 L430.2 336.7 L430.3 337.9 L430.4 339.1 L430.5 340.3 L430.6 341.5 L430.7 342.7 L430.8 343.9 L430.9 345.1 L431.1 346.3 L431.2 347.5 L431.3 348.7 L431.4 349.9 L431.5 351.1 L431.6 352.3 L431.8 353.5 L431.9 354.7 L432.0 355.9 L432.1 357.1 L432.2 358.3 L432.3 359.5 L432.5 360.6 L432.6 361.8 L432.7 363.0 L432.8 364.2 L433.0 365.4 L433.1 366.6 L433.2 367.8 L433.3 369.0 L433.4 370.2 L433.6 371.4 L433.7 372.6 L433.8 373.8 L433.9 375.0 L434.1 376.2 L434.2 377.4 L434.3 378.6 L434.5 379.8 L434.6 381.0 L434.7 382.1 L434.8 383.3 L435.0 384.5 L435.1 385.7 L435.2 386.9 L435.4 388.1 L435.5 389.3 L435.7 390.5 L435.8 391.7 L435.9 392.9 L436.1 394.1 L436.3 395.3 L436.4 396.5 L436.6 397.6 L436.8 398.8 L437.0 400.0 L437.1 401.2 L437.3 402.4 L437.5 403.6 L437.6 404.8 L437.8 406.0 L438.0 407.2 L438.1 408.4 L438.2 409.5 L438.3 410.7 L438.5 411.9 L438.6 413.1 L438.7 414.3 L438.8 415.5 L438.9 416.7 L439.0 417.9 L439.1 419.1 L439.2 420.3 L439.4 421.5 L439.5 422.7 L439.7 423.9 L439.8 425.1 L440.0 426.3 L440.2 427.5 L440.3 428.6 L440.5 429.8 L440.7 431.0 L440.9 432.2 L441.1 433.4 L441.3 434.6 L441.5 435.8 L441.7 436.9 L442.0 438.1 L442.2 439.3 L442.4 440.5 L442.6 441.7 L442.9 442.8 L443.1 444.0 L443.4 445.2 L443.6 446.4 L443.9 447.5 L444.2 448.7 L444.4 449.9 L444.7 451.0 L445.0 452.2 L445.3 453.4 L445.6 454.5 L445.9 455.7 L446.3 456.8 L446.6 458.0 L446.9 459.2 L447.2 460.3 L447.5 461.5 L447.8 462.6 L448.2 463.8 L448.5 464.9 L448.9 466.1 L449.2 467.2 L449.5 468.4 L449.9 469.5 L450.3 470.7 L450.6 471.8 L451.0 473.0 L451.3 474.1 L451.7 475.3 L452.1 476.4 L452.4 477.6 L452.8 478.7 L453.2 479.9 L453.6 481.0 L454.0 482.1 L454.4 483.2 L454.8 484.4 L455.3 485.5 L455.7 486.6 L456.2 487.7 L456.7 488.8 L457.2 489.9 L457.7 491.0 L458.2 492.1 L458.7 493.2 L459.3 494.3 L459.8 495.4 L460.4 496.4 L461.0 497.4 L461.7 498.4 L462.3 499.4 L463.0 500.3 L463.7 501.3 L464.5 502.2 L465.2 503.2 L466.0 504.2 L466.9 505.2 L467.7 506.2 L468.6 507.1 L469.4 508.1 L470.3 508.9 L471.2 509.6 L472.2 510.4 L473.1 511.1 L474.1 511.9 L475.1 512.6 L476.1 513.2 L477.1 513.7 L478.2 514.2 L479.3 514.8 L480.4 515.3 L481.5 515.8 L482.6 516.1 L483.7 516.1 L484.8 516.3 L485.9 516.8 L487.0 517.1 L488.2 517.6 L489.4 518.0 L490.5 518.3 L491.7 518.7 L492.9 519.1 L494.1 519.6 L495.3 520.0 L496.5 520.2 L497.6 520.3 L498.8 520.2 L500.0 520.1 L501.2 519.9 L502.4 519.9 L503.6 520.2 L504.8 520.3 L506.0 520.5 L507.2 520.7 L508.4 520.6 L509.6 520.8 L510.8 520.9 L512.0 521.1 L513.1 521.6 L514.3 521.9 L515.5 522.4 L516.7 522.6 L517.9 522.6 L519.1 522.5 L520.3 522.3 L521.5 522.4 L522.7 522.6 L523.9 523.0 L525.1 523.3 L526.3 523.4 L527.5 523.5 L528.7 523.6 L529.9 523.8 L531.1 524.1 L532.3 524.2 L533.5 524.3 L534.7 524.3 L535.9 524.2 L537.1 524.1 L538.3 524.0 L539.5 523.9 L540.7 523.8 L541.9 523.7 L543.1 523.5 L544.3 523.4 L545.5 523.3 L546.7 523.0 L547.9 523.1 L549.1 523.0 L550.3 523.2 L551.5 523.5 L552.7 523.7 L553.9 523.9 L555.1 524.1 L556.3 524.3 L557.5 524.4 L558.7 524.3 L559.9 524.0 L561.1 523.8 L562.3 523.8 L563.5 523.9 L564.7 524.2 L565.9 524.1 L567.1 523.8 L568.3 523.6 L569.5 523.3 L570.7 523.1 L571.9 523.2 L573.1 523.0 L574.3 523.0 L575.5 523.2 L576.7 523.2 L577.9 523.2 L579.1 523.3 L580.3 523.1 L581.5 523.0 L582.7 522.8 L583.9 522.6 L585.1 522.4 L586.3 522.4 L587.5 522.5 L588.7 522.6 L589.9 523.0 L591.1 523.1 L592.3 523.1 L593.5 523.1 L594.7 523.0 L595.9 523.1 L597.1 523.3 L598.3 523.5 L599.5 523.6 L600.7 523.8 L601.9 523.8 L603.1 523.6 L604.3 523.3 L605.5 522.9 L606.7 522.8 L607.9 522.8 L609.1 523.1 L610.3 523.3 L611.5 523.4 L612.7 523.2 L613.9 523.1 L615.1 522.9 L616.3 523.0 L617.5 523.1 L618.7 523.1 L619.9 523.2 L621.1 523.3 L622.3 523.6 L623.5 523.8 L624.7 523.9 L625.9 524.1 L627.1 523.9 L628.3 523.9 L629.6 523.9 L630.8 523.7 L632.0 523.7 L633.2 523.5 L634.4 523.4 L635.6 523.2 L636.8 522.7 L638.0 522.2 L639.2 521.7 L640.4 521.4 L641.6 521.5 L642.8 521.8 L644.0 522.2 L645.2 522.7 L646.4 523.0 L647.6 523.2 L648.8 523.3 L650.0 523.3 L651.2 523.4 L652.4 523.4 L653.6 523.4 L654.8 523.1 L656.0 522.9 L657.2 522.8 L658.4 522.7 L659.6 522.9 L660.8 522.8 L662.0 522.6 L663.2 522.5 L664.4 522.4 L665.6 522.5 L666.8 522.9 L668.0 523.3 L669.2 523.6 L670.4 523.9 L671.6 524.0 L672.8 523.9 L674.0 524.0 L675.2 523.9 L676.4 523.7 L677.6 523.4 L678.8 523.1 L680.0 522.6 L681.2 522.6 L682.4 522.4 L683.6 522.5 L684.8 522.8 L686.0 522.7 L687.2 522.8 L688.4 522.8 L689.6 523.0 L690.8 523.4 L692.0 523.9 L693.2 524.2 L694.4 524.2 L695.6 524.1 L696.8 523.9 L698.0 523.6 L699.2 523.6 L700.4 523.6 L701.6 523.7 L702.8 523.9 L704.0 524.2 L705.2 524.3 L706.4 524.6 L707.6 524.8 L708.8 524.7 L710.0 524.6 L711.2 524.2 L712.4 523.9 L713.6 523.9 L714.8 523.7 L716.0 523.5 L717.2 523.2 L718.4 523.0 L719.6 523.0 L720.8 523.1 L722.0 523.2 L723.2 523.3 L724.4 523.0 L725.6 523.0 L726.8 522.9 L728.0 522.9 L729.2 523.1 L730.4 523.1 L731.6 523.2 L732.8 523.4 L734.0 523.4 L735.2 523.3 L736.4 523.2 L737.6 523.0 L738.8 522.8 L740.0 522.9 L741.2 522.9 L742.4 523.1 L743.6 523.4 L744.8 523.7 L746.1 523.9 L747.3 524.0 L748.5 523.9 L749.7 523.8 L750.9 523.5 L752.1 523.3 L753.3 523.2 L754.5 523.0 L755.7 523.1 L756.9 523.2 L758.1 523.1 L759.3 523.3 L760.5 523.4 L761.7 523.4 L762.9 523.7 L764.1 523.7 L765.3 523.7 L766.5 523.6 L767.7 523.3 L768.9 523.1 L770.1 522.9 L771.3 523.1 L772.5 523.3 L773.7 523.4 L774.9 523.5 L776.1 523.3 L777.3 523.0 L778.5 523.0 L779.7 522.8 L780.9 522.8 L782.1 522.9 L783.3 523.0 L784.5 523.4 L785.7 523.6 L786.9 523.8 L788.1 523.6 L789.3 523.2 L790.5 522.9 L791.7 522.6 L792.9 522.8 L794.1 523.0" stroke="#000000"/>
<g id="A11" stroke="#0000ff" stroke-dasharray="10.73 10.73">
<path d="M85.6 523.9 L86.8 523.8 L88.0 523.6 L89.2 523.5 L90.4 523.5 L91.6 523.5 L92.9 523.7 L94.1 524.0 L95.3 524.2 L96.5 524.6 L97.7 524.5 L98.9 524.5 L100.1 524.4 L101.3 524.2 L102.5 524.3 L103.7 524.2 L104.9 524.1 L106.1 524.0 L107.3 524.0 L108.6 524.2 L109.8 524.3 L111.0 524.3 L112.2 524.1 L113.4 523.7 L114.6 523.1 L115.8 522.5 L117.0 522.2 L118.2 522.2 L119.4 522.4 L120.6 522.9 L121.8 523.3 L123.0 523.6 L124.2 523.8 L125.4 523.7 L126.6 523.7 L127.8 523.6 L129.0 523.4 L130.2 523.4 L131.4 523.4 L132.6 523.5 L133.8 523.8 L135.0 524.0 L136.3 524.1 L137.5 524.1 L138.7 524.1 L139.9 523.9 L141.1 523.8 L142.3 523.8 L143.5 523.6 L144.7 523.8 L145.9 523.9 L147.1 524.1 L148.3 524.3 L149.5 524.5 L150.7 524.4 L151.9 524.2 L153.1 524.0 L154.3 523.8 L155.5 523.8 L156.7 523.9 L157.9 524.1 L159.1 524.2 L160.3 524.2 L161.5 524.1 L162.7 524.0 L163.9 523.8 L165.1 523.5 L166.3 523.4 L167.5 523.2 L168.7 523.4 L169.9 523.6 L171.1 523.8 L172.3 524.1 L173.5 524.1 L174.7 524.2 L175.9 524.1 L177.1 523.8 L178.3 523.5 L179.4 523.1 L180.6 522.8 L181.8 522.7 L183.0 522.9 L184.2 523.2 L185.4 523.4 L186.6 523.5 L187.8 523.2 L189.0 523.0 L190.2 523.0 L191.4 523.0 L192.6 523.1 L193.8 523.1 L195.0 523.0 L196.2 523.1 L197.4 523.3 L198.6 523.3 L199.8 523.2 L201.0 523.2 L202.2 522.9 L203.4 522.7 L204.6 522.7 L205.8 522.6 L207.0 522.7 L208.2 522.8 L209.4 522.8 L210.6 522.8 L211.7 522.9 L212.9 523.0 L214.1 523.3 L215.3 523.7 L216.5 523.8 L217.7 523.9 L218.9 523.9 L220.1 523.8 L221.3 523.6 L222.5 523.3 L223.7 523.0 L224.9 522.6 L226.1 522.6 L227.3 522.7 L228.5 522.9 L229.7 523.2 L230.9 523.2 L232.1 523.0 L233.2 522.7 L234.4 522.3 L235.6 521.9 L236.8 521.6 L238.0 521.3 L239.2 521.0 L240.4 520.9 L241.6 520.8 L242.8 520.9 L244.0 521.0 L245.2 521.2 L246.3 521.1 L247.5 520.9 L248.7 520.6 L249.9 520.1 L251.1 519.9 L252.2 519.7 L253.4 519.4 L254.6 519.0 L255.8 518.6 L256.9 518.5 L258.1 518.4 L259.3 518.3 L260.4 518.1 L261.6 517.6 L262.7 516.9 L263.9 516.2 L265.1 515.6 L266.2 515.2 L267.4 514.9 L268.5 514.8 L269.7 514.6 L270.8 514.5 L272.0 514.4 L273.2 514.1 L274.3 513.6 L275.5 513.2 L276.6 512.6 L277.8 511.9 L278.9 511.6 L280.1 511.2 L281.2 511.0 L282.4 511.0 L283.5 510.7 L284.6 510.1 L285.7 509.6 L286.8 509.0 L287.9 508.4 L288.9 508.1 L290.0 507.6 L291.1 507.1 L292.1 506.5 L293.2 505.7 L294.3 505.1 L295.3 504.3 L296.4 503.6 L297.5 503.1 L298.6 502.8 L299.7 502.5 L300.7 502.2 L301.8 501.6 L302.9 501.1 L303.9 500.6 L305.0 500.1 L306.0 499.6 L307.1 498.8 L308.1 498.0 L309.1 497.0 L310.2 496.1 L311.2 495.5 L312.1 495.0 L313.1 494.4 L314.0 493.9 L314.9 493.1 L315.8 492.3 L316.6 491.4 L317.4 490.6 L318.1 489.8 L318.8 488.9 L319.5 487.9 L320.1 486.8 L320.7 485.7 L321.2 484.7 L321.7 483.6 L322.2 482.5 L322.6 481.4 L323.0 480.2 L323.4 479.1 L323.8 478.0 L324.1 476.8 L324.5 475.6 L324.8 474.5 L325.2 473.4 L325.6 472.2 L326.0 471.1 L326.3 469.9 L326.7 468.8 L327.1 467.7 L327.5 466.5 L327.9 465.4 L328.3 464.2 L328.7 463.1 L329.0 462.0 L329.4 460.8 L329.8 459.7 L330.2 458.6 L330.6 457.4 L331.1 456.3 L331.5 455.2 L332.0 454.1 L332.4 453.0 L332.9 451.9 L333.4 450.7 L333.9 449.6 L334.5 448.5 L335.1 447.4 L335.7 446.4 L336.3 445.4 L337.0 444.3 L337.7 443.3 L338.6 442.4 L339.5 441.4 L340.4 440.6 L341.4 439.8 L342.5 439.1 L343.5 438.6 L344.5 438.4 L345.6 438.6 L346.8 439.0 L347.9 439.6 L348.8 440.5 L349.4 441.6 L349.9 442.5 L350.4 443.6 L350.8 444.8 L351.2 446.0 L351.5 447.2 L351.9 448.5 L352.2 449.6 L352.6 450.8 L353.0 451.9 L353.3 453.1 L353.7 454.2 L354.0 455.4 L354.3 456.5 L354.7 457.7 L355.0 458.9 L355.3 460.0 L355.5 461.2 L355.8 462.4 L356.1 463.5 L356.3 464.7 L356.6 465.9 L356.8 467.1 L357.1 468.2 L357.4 469.4 L357.6 470.6 L357.9 471.7 L358.2 472.9 L358.6 474.0 L358.9 475.2 L359.2 476.4 L359.6 477.5 L359.9 478.7 L360.3 479.8 L360.7 480.9 L361.1 482.1 L361.4 483.2 L361.8 484.4 L362.2 485.6 L362.6 486.7 L363.1 487.9 L363.6 488.9 L364.2 489.8 L364.9 490.7 L365.8 491.6 L366.8 492.3 L367.8 493.3 L368.8 494.2 L369.9 494.8 L371.0 495.5 L372.1 495.9 L373.3 496.2 L374.4 496.5 L375.6 496.7 L376.9 496.7 L378.0 496.5 L379.2 496.2 L380.4 495.7 L381.6 495.2 L382.8 494.9 L383.9 494.7 L385.0 494.4 L386.1 494.1 L387.2 493.4 L388.3 492.6 L389.3 491.8 L390.3 491.1 L391.3 490.7 L392.3 490.2 L393.2 489.8 L394.1 489.1 L395.0 488.2 L395.9 487.2 L396.8 486.1 L397.7 485.1 L398.5 484.3 L399.3 483.3 L400.0 482.4 L400.7 481.5 L401.4 480.5 L402.0 479.5 L402.7 478.5 L403.3 477.4 L403.8 476.3 L404.4 475.3 L404.9 474.2 L405.4 473.1 L405.9 472.0 L406.3 470.9 L406.7 469.8 L407.2 468.6 L407.6 467.5 L408.0 466.4 L408.4 465.2 L408.8 464.1 L409.3 463.0 L409.8 461.9 L410.2 460.8 L410.7 459.7 L411.0 458.5 L411.4 457.4 L411.7 456.2 L411.9 455.1 L412.2 453.9 L412.4 452.7 L412.7 451.6 L412.9 450.4 L413.1 449.2" stroke-dashoffset="5.66"/>
<path d="M413.1 449.2 L413.3 448.0 L413.5 446.8 L413.7 445.6 L413.9 444.4 L414.1 443.2 L414.3 442.1 L414.5 440.9 L414.7 439.7 L414.9 438.5 L415.1 437.3 L415.3 436.1 L415.5 434.9 L415.7 433.8 L415.9 432.6 L416.1 431.4 L416.3 430.2 L416.5 429.0 L416.6 427.8 L416.8 426.6 L417.0 425.5 L417.2 424.3 L417.4 423.1 L417.5 421.9 L417.7 420.7 L417.9 419.5 L418.0 418.3 L418.2 417.1 L418.3 415.9 L418.4 414.7 L418.6 413.6 L418.7 412.4 L418.8 411.2 L418.9 410.0 L419.0 408.8 L419.1 407.6 L419.3 406.4 L419.4 405.2 L419.5 404.0 L419.6 402.8 L419.7 401.6 L419.7 400.4 L419.8 399.2 L419.9 398.0 L420.0 396.8 L420.1 395.6 L420.2 394.4 L420.2 393.2 L420.3 392.0 L420.4 390.8 L420.5 389.6 L420.5 388.4 L420.6 387.2 L420.7 386.0 L420.7 384.8 L420.8 383.6 L420.9 382.4 L420.9 381.2 L421.0 380.0 L421.0 378.8 L421.1 377.6 L421.1 376.4 L421.2 375.2 L421.3 374.0 L421.3 372.8 L421.4 371.6 L421.4 370.4 L421.5 369.2 L421.5 368.0 L421.5 366.8 L421.6 365.6 L421.6 364.4 L421.7 363.2 L421.7 362.0 L421.7 360.8 L421.8 359.6 L421.8 358.4 L421.8 357.2 L421.9 356.0 L421.9 354.8 L421.9 353.6 L422.0 352.4 L422.0 351.2 L422.0 350.0 L422.1 348.8 L422.1 347.6 L422.1 346.4 L422.2 345.2 L422.2 344.0 L422.2 342.8 L422.3 341.6 L422.3 340.4 L422.3 339.2 L422.4 338.0 L422.4 336.8 L422.4 335.6 L422.5 334.4 L422.5 333.2 L422.6 332.0 L422.6 330.8 L422.7 329.6 L422.7 328.4 L422.8 327.2 L422.8 326.0 L422.9 324.8 L422.9 323.6 L423.0 322.4 L423.1 321.2 L423.2 320.0 L423.3 318.8 L423.5 317.6 L423.6 316.5 L423.7 315.3 L423.8 314.1 L423.9 312.9 L424.0 311.7 L424.1 310.5 L424.2 309.3 L424.3 308.1 L424.3 306.9 L424.4 305.7 L424.4 304.5 L424.5 303.3 L424.5 302.1 L424.6 300.9 L424.6 299.7 L424.6 298.5 L424.7 297.3 L424.7 296.1 L424.7 294.9 L424.8 293.7 L424.8 292.5 L424.8 291.3 L424.8 290.1 L424.9 288.9 L424.9 287.7 L424.9 286.5 L425.0 285.3 L425.0 284.1 L425.1 282.9 L425.1 281.7 L425.2 280.5 L425.2 279.3 L425.3 278.1 L425.3 276.9 L425.4 275.7 L425.4 274.5 L425.5 273.3 L425.5 272.1 L425.6 270.9 L425.7 269.7 L425.7 268.5 L425.7 267.3 L425.8 266.1 L425.8 264.9 L425.9 263.7 L425.9 262.5 L426.0 261.3 L426.0 260.1 L426.1 258.9 L426.1 257.7 L426.1 256.5 L426.2 255.3 L426.2 254.1 L426.3 252.9 L426.3 251.7 L426.4 250.5 L426.4 249.3 L426.4 248.1 L426.5 246.9 L426.5 245.7 L426.6 244.5 L426.6 243.3 L426.6 242.1 L426.7 240.9 L426.7 239.7 L426.7 238.5 L426.8 237.3 L426.8 236.1 L426.8 234.9 L426.9 233.7 L426.9 232.5 L426.9 231.3 L427.0 230.1 L427.0 228.9 L427.1 227.7 L427.1 226.5 L427.1 225.3 L427.2 224.1 L427.2 222.9 L427.3 221.7 L427.3 220.5 L427.4 219.3 L427.4 218.1 L427.5 216.9 L427.6 215.7 L427.7 214.5 L427.8 213.3 L427.9 212.1 L428.0 210.9 L428.0 209.7 L428.1 208.5 L428.2 207.3 L428.3 206.1 L428.4 204.9 L428.5 203.7 L428.6 202.5 L428.7 201.3 L428.7 200.1 L428.8 198.9 L428.9 197.7 L428.9 196.5 L429.0 195.3 L429.0 194.1 L429.1 192.9 L429.1 191.7 L429.2 190.5 L429.2 189.3 L429.3 188.1 L429.3 186.9 L429.4 185.7 L429.4 184.5 L429.5 183.3 L429.5 182.1 L429.6 180.9 L429.6 179.7 L429.7 178.5 L429.7 177.3 L429.8 176.1 L429.8 174.9 L429.9 173.7 L429.9 172.5 L430.0 171.3 L430.0 170.1 L430.1 168.9 L430.2 167.7 L430.2 166.5 L430.3 165.3 L430.3 164.1 L430.4 162.9 L430.4 161.7 L430.5 160.5 L430.5 159.3 L430.6 158.1 L430.6 156.9 L430.7 155.7 L430.8 154.5 L430.8 153.3 L430.9 152.1 L431.0 150.9 L431.1 149.7 L431.1 148.5 L431.2 147.3 L431.3 146.1 L431.4 145.0 L431.5 143.8 L431.6 142.6 L431.8 141.4 L431.9 140.2 L432.1 139.0 L432.2 137.8 L432.4 136.6 L432.6 135.4 L432.8 134.2 L433.0 133.0 L433.2 131.9 L433.4 130.7 L433.6 129.5 L433.8 128.3 L434.1 127.1 L434.3 126.0 L434.6 124.8 L434.8 123.6 L435.1 122.5 L435.4 121.3 L435.7 120.1 L436.0 119.0 L436.3 118.3 L436.5 119.0 L436.7 120.2 L436.9 121.4 L437.1 122.5 L437.3 123.7 L437.5 124.9 L437.6 126.1 L437.8 127.3 L437.9 128.5 L438.1 129.7 L438.2 130.9 L438.3 132.1 L438.4 133.3 L438.5 134.5 L438.6 135.7 L438.7 136.9 L438.8 138.1 L438.9 139.3 L439.0 140.5 L439.0 141.7 L439.1 142.9 L439.2 144.1 L439.3 145.3 L439.4 146.5 L439.4 147.7 L439.5 148.9 L439.6 150.0 L439.7 151.2 L439.8 152.4 L439.9 153.6 L440.0 154.8 L440.1 156.0 L440.1 157.2 L440.2 158.4 L440.3 159.6 L440.4 160.8 L440.5 162.0 L440.5 163.2 L440.6 164.4 L440.7 165.6 L440.7 166.8 L440.8 168.0 L440.9 169.2 L440.9 170.4 L441.0 171.6 L441.0 172.8 L441.1 174.0 L441.1 175.2 L441.2 176.4 L441.2 177.6 L441.3 178.8 L441.3 180.0 L441.3 181.2 L441.4 182.4 L441.4 183.6 L441.5 184.8 L441.5 186.0 L441.5 187.2 L441.6 188.4 L441.6 189.6 L441.6 190.8 L441.6 192.0 L441.7 193.2 L441.7 194.4 L441.7 195.6 L441.7 196.8 L441.8 198.1 L441.8 199.3 L441.8 200.5 L441.8 201.7 L441.8 202.9 L441.9 204.1 L441.9 205.3 L441.9 206.5 L441.9 207.7 L442.0 208.9 L442.0 210.1 L442.0 211.3 L442.1 212.5 L442.1 213.7 L442.2 214.9 L442.2 216.1 L442.3 217.3 L442.3 218.5 L442.4 219.7 L442.4 220.9 L442.5 222.1 L442.5 223.3 L442.6 224.5 L442.7 225.7 L442.7 226.9 L442.8 228.1 L442.8 229.3 L442.9 230.5 L442.9 231.7 L443.0 232.9 L443.0 234.1 L443.1 235.3 L443.2 236.5 L443.2 237.7 L443.3 238.9 L443.3 240.1 L443.4 241.3 L443.5 242.5 L443.5 243.7 L443.6 244.9 L443.6 246.1 L443.7 247.3 L443.7 248.5 L443.8 249.7 L443.8 250.9 L443.9 252.1 L443.9 253.3 L443.9 254.5 L444.0 255.7 L444.0 256.9 L444.0 258.1 L444.0 259.3 L444.0 260.5 L444.1 261.7 L444.1 262.9 L444.1 264.1 L444.1 265.3 L444.1 266.5 L444.2 267.7 L444.2 268.9 L444.2 270.1 L444.2 271.3 L444.2 272.5 L444.3 273.7 L444.3 274.9 L444.3 276.1 L444.3 277.3 L444.4 278.5 L444.4 279.7 L444.4 280.9 L444.5 282.1 L444.5 283.3 L444.5 284.5 L444.6 285.7 L444.6 286.9 L444.6 288.1 L444.7 289.3 L444.7 290.5 L444.8 291.7 L444.8 292.9 L444.8 294.1 L444.9 295.3 L444.9 296.5 L445.0 297.7 L445.0 298.9 L445.1 300.1 L445.2 301.3 L445.2 302.5 L445.3 303.7 L445.4 304.9 L445.4 306.1 L445.5 307.3 L445.6 308.5 L445.6 309.7 L445.7 310.9 L445.8 312.1 L445.8 313.3 L445.9 314.5 L445.9 315.7 L446.0 316.9 L446.0 318.1 L446.1 319.3 L446.1 320.5 L446.2 321.7 L446.2 322.9 L446.2 324.1 L446.3 325.3 L446.3 326.5 L446.3 327.7 L446.3 328.9 L446.4 330.1 L446.4 331.3 L446.4 332.5 L446.5 333.7 L446.5 334.9 L446.6 336.1 L446.6 337.3 L446.7 338.5 L446.7 339.7 L446.8 340.9 L446.9 342.1 L446.9 343.3 L447.0 344.5 L447.1 345.7 L447.2 346.9 L447.3 348.1 L447.4 349.3 L447.5 350.5 L447.6 351.7 L447.6 352.9 L447.7 354.1 L447.8 355.3 L447.9 356.5 L448.0 357.7 L448.1 358.9 L448.1 360.1 L448.2 361.3 L448.3 362.5 L448.3 363.7 L448.4 364.9 L448.4 366.1 L448.4 367.3 L448.5 368.5 L448.5 369.7 L448.6 370.9 L448.6 372.1 L448.6 373.3 L448.7 374.5 L448.7 375.7 L448.7 376.9 L448.8 378.1 L448.8 379.3 L448.8 380.5 L448.9 381.7 L448.9 382.9 L449.0 384.1 L449.0 385.3 L449.0 386.5 L449.1 387.7 L449.1 388.9 L449.2 390.1 L449.2 391.3 L449.3 392.5 L449.3 393.7 L449.3 394.9 L449.4 396.1 L449.4 397.3 L449.5 398.5 L449.5 399.7 L449.6 400.9 L449.6 402.1 L449.7 403.3 L449.7 404.5 L449.8 405.7 L449.8 406.9 L449.9 408.1 L450.0 409.3 L450.1 410.5 L450.1 411.7 L450.2 412.9 L450.3 414.1 L450.4 415.3 L450.4 416.5 L450.5 417.7 L450.6 418.9 L450.7 420.1 L450.7 421.3 L450.8 422.5 L450.9 423.7 L450.9 424.9 L451.0 426.1 L451.1 427.3 L451.1 428.5 L451.1 429.7 L451.2 430.9 L451.2 432.1 L451.3 433.3 L451.3 434.5 L451.3 435.7 L451.4 436.9 L451.4 438.1 L451.4 439.3 L451.5 440.5 L451.5 441.7 L451.6 442.9 L451.6 444.1 L451.7 445.3 L451.8 446.5 L451.8 447.7 L451.9 448.9 L452.1 450.1 L452.2 451.3 L452.4 452.5 L452.5 453.7 L452.7 454.9 L452.9 456.0 L453.1 457.2 L453.4 458.4 L453.6 459.6 L453.8 460.8 L454.1 462.0 L454.3 463.1 L454.6 464.3 L454.9 465.5 L455.1 466.7 L455.4 467.8 L455.6 469.0 L455.9 470.2 L456.2 471.4 L456.4 472.5 L456.7 473.7 L457.1 474.9 L457.4 476.0 L457.7 477.2 L458.1 478.3 L458.5 479.5 L458.9 480.6 L459.3 481.7 L459.7 482.8 L460.2 483.9 L460.7 485.0 L461.3 486.1 L461.9 487.2 L462.5 488.2 L463.1 489.2 L463.7 490.2 L464.4 491.2 L465.2 492.1 L466.0 493.0 L466.8 493.8 L467.6 494.7 L468.4 495.6 L469.2 496.6 L469.9 497.7 L470.7 498.6 L471.4 499.6 L472.2 500.4 L472.9 501.2 L473.7 502.0 L474.5 502.8 L475.3 503.7 L476.1 504.8 L477.0 505.9 L477.9 507.0 L478.7 507.9 L479.6 508.7 L480.6 509.3 L481.5 509.9 L482.5 510.3 L483.4 510.9 L484.4 511.5 L485.4 512.1 L486.4 512.8 L487.5 513.5 L488.6 514.0 L489.7 514.5 L490.8 515.0 L491.9 515.1 L493.0 515.4 L494.2 515.7 L495.3 515.9 L496.5 516.5 L497.6 516.9 L498.8 517.3 L499.9 517.9 L501.1 518.3 L502.3 518.7 L503.5 518.8 L504.7 519.1 L505.8 519.3 L507.0 519.7 L508.2 520.0 L509.4 520.3 L510.6 520.6 L511.8 520.7 L513.0 521.0 L514.2 521.2 L515.4 521.1 L516.6 521.0 L517.8 520.8 L519.0 520.6 L520.2 520.8 L521.4 521.0 L522.6 521.2 L523.8 521.4 L525.0 521.5 L526.2 521.7 L527.4 521.7 L528.6 521.6 L529.8 521.4 L531.0 521.3 L532.2 521.2 L533.4 521.3 L534.6 521.4 L535.8 521.6 L537.0 521.6 L538.2 521.5 L539.4 521.2 L540.6 520.9 L541.8 520.9 L543.0 520.9 L544.2 521.2 L545.4 521.5 L546.6 521.7 L547.8 521.8 L549.0 522.0 L550.2 522.2 L551.4 522.3 L552.6 522.3 L553.8 522.1 L555.0 521.9 L556.2 521.9 L557.4 521.9 L558.6 522.0 L559.8 522.2 L561.0 522.3 L562.2 522.6 L563.4 523.0 L564.6 523.3 L565.8 523.4 L567.0 523.3 L568.2 523.1 L569.4 522.8 L570.6 522.6 L571.8 522.5 L573.0 522.2 L574.2 522.3 L575.4 522.4 L576.6 522.7 L577.8 523.2 L579.1 523.3 L580.3 523.4 L581.5 523.3 L582.7 523.0 L583.9 522.8 L585.1 522.6 L586.3 522.4 L587.5 522.3 L588.7 522.4 L589.9 522.6 L591.1 523.1 L592.3 523.4 L593.5 523.4 L594.7 523.5 L595.9 523.3 L597.1 523.3 L598.3 523.4 L599.5 523.3 L600.7 523.4 L601.9 523.3 L603.1 523.0 L604.3 522.6 L605.5 522.3 L606.7 522.4 L607.9 522.6 L609.1 523.0 L610.3 523.3 L611.5 523.3 L612.7 523.3 L613.9 523.1 L615.1 522.9 L616.3 522.9 L617.5 523.0 L618.7 523.3 L619.9 523.6 L621.1 523.8 L622.3 523.7 L623.5 523.4 L624.7 523.3 L625.9 523.0 L627.1 522.9 L628.3 523.0 L629.5 522.9 L630.7 523.1 L631.9 523.3 L633.1 523.5 L634.3 523.6 L635.5 523.7 L636.7 523.5 L637.9 523.4 L639.1 523.6 L640.3 523.6 L641.5 523.6 L642.7 523.7 L643.9 523.4 L645.1 523.5 L646.3 523.5 L647.5 523.5 L648.7 523.5 L649.9 523.4 L651.1 523.3 L652.3 523.2 L653.5 523.2 L654.7 523.0 L655.9 522.7 L657.1 522.5 L658.3 522.4 L659.5 522.6 L660.7 522.9 L661.9 523.1 L663.1 523.2 L664.3 523.1 L665.5 522.9 L666.7 522.7 L668.0 522.7 L669.2 522.8 L670.4 523.1 L671.6 523.6 L672.8 523.7 L674.0 523.8 L675.2 523.8 L676.4 523.6 L677.6 523.7 L678.8 523.5 L680.0 523.4 L681.2 523.4 L682.4 523.5 L683.6 523.7 L684.8 523.8 L686.0 523.7 L687.2 523.5 L688.4 523.3 L689.6 523.1 L690.8 523.0 L692.0 523.1 L693.2 523.1 L694.4 523.4 L695.6 523.6 L696.8 523.5 L698.0 523.5 L699.2 523.3 L700.4 523.2 L701.6 523.0 L702.8 523.0 L704.0 522.9 L705.2 522.8 L706.4 522.9 L707.6 522.8 L708.8 522.8 L710.0 522.7 L711.2 522.5 L712.4 522.6 L713.6 522.4 L714.8 522.5 L716.0 522.7 L717.2 522.9 L718.4 523.2 L719.6 523.4 L720.8 523.5 L722.0 523.4 L723.2 523.4 L724.4 523.4 L725.6 523.4 L726.8 523.6 L728.0 523.6 L729.2 523.6 L730.4 523.5 L731.6 523.4 L732.8 523.4 L734.0 523.4 L735.2 523.5 L736.4 523.6 L737.6 523.5 L738.8 523.6 L740.0 523.5 L741.2 523.5 L742.4 523.6 L743.6 523.7 L744.8 523.9 L746.0 524.1 L747.2 524.1 L748.4 524.2 L749.6 524.3 L750.8 524.2 L752.0 524.2 L753.3 523.9 L754.5 523.5 L755.7 523.3 L756.9 523.0 L758.1 523.0 L759.3 522.9 L760.5 522.8 L761.7 522.8 L762.9 523.0 L764.1 523.4 L765.3 523.8 L766.5 524.1 L767.7 524.1 L768.9 523.8 L770.1 523.5 L771.3 523.3 L772.5 523.1 L773.7 523.1 L774.9 523.2 L776.1 523.2 L777.3 523.0 L778.5 522.8 L779.7 522.4 L780.9 522.2 L782.1 522.3 L783.3 522.6 L784.5 523.0 L785.7 523.5 L786.9 523.7 L788.1 523.5 L789.3 523.4 L790.5 523.2 L791.7 523.3 L792.9 523.4 L794.1 523.7" stroke-dashoffset="8.34"/>
</g>
<path id="A12" d="M85.6 524.0 L86.8 524.2 L88.0 524.4 L89.2 524.6 L90.4 524.8 L91.6 525.0 L92.9 525.0 L94.1 524.8 L95.3 524.4 L96.5 523.9 L97.7 523.6 L98.9 523.6 L100.1 523.8 L101.3 524.1 L102.5 524.4 L103.7 524.6 L104.9 524.7 L106.1 524.8 L107.3 524.6 L108.6 524.4 L109.8 524.2 L111.0 524.2 L112.2 524.1 L113.4 523.9 L114.6 523.7 L115.8 523.7 L117.0 523.5 L118.2 523.7 L119.4 524.0 L120.6 524.0 L121.8 524.2 L123.0 524.3 L124.2 524.1 L125.4 524.1 L126.6 524.0 L127.8 523.9 L129.0 523.8 L130.3 523.5 L131.5 523.6 L132.7 523.7 L133.9 523.8 L135.1 524.1 L136.3 524.2 L137.5 524.2 L138.7 524.2 L139.9 524.0 L141.1 523.9 L142.3 523.9 L143.5 523.9 L144.7 524.0 L145.9 524.0 L147.1 523.9 L148.3 524.0 L149.5 524.2 L150.7 524.5 L151.9 524.7 L153.1 524.5 L154.3 524.3 L155.5 524.0 L156.7 523.5 L157.9 523.3 L159.1 523.1 L160.3 523.1 L161.5 523.3 L162.7 523.6 L163.9 523.9 L165.1 524.1 L166.3 524.1 L167.5 524.2 L168.7 524.1 L169.9 523.8 L171.1 523.6 L172.3 523.5 L173.5 523.5 L174.7 523.5 L175.9 523.6 L177.1 523.6 L178.3 523.7 L179.5 523.6 L180.7 523.5 L181.9 523.5 L183.1 523.4 L184.3 523.6 L185.5 523.6 L186.7 523.6 L187.9 523.6 L189.1 523.4 L190.3 523.3 L191.5 523.3 L192.7 523.4 L193.9 523.5 L195.1 523.9 L196.3 524.1 L197.5 524.2 L198.7 524.1 L199.9 523.7 L201.1 523.3 L202.3 523.0 L203.5 522.8 L204.7 522.7 L205.9 522.7 L207.1 522.7 L208.3 522.8 L209.5 522.9 L210.7 523.0 L211.8 522.9 L213.0 522.8 L214.2 522.8 L215.4 522.6 L216.6 522.6 L217.8 522.7 L219.0 522.7 L220.2 523.0 L221.4 523.2 L222.6 523.2 L223.8 523.3 L225.0 523.2 L226.2 523.3 L227.4 523.4 L228.6 523.6 L229.8 523.5 L231.0 523.3 L232.2 523.0 L233.4 522.6 L234.6 522.3 L235.8 522.2 L237.0 522.1 L238.2 521.9 L239.4 521.8 L240.6 521.4 L241.7 521.3 L242.9 521.1 L244.1 521.0 L245.3 520.8 L246.5 520.5 L247.7 520.2 L248.9 520.0 L250.1 519.9 L251.2 520.0 L252.4 519.9 L253.6 519.8 L254.8 519.4 L255.9 518.7 L257.1 518.3 L258.3 517.8 L259.4 517.7 L260.6 517.7 L261.8 517.6 L262.9 517.6 L264.1 517.3 L265.3 516.9 L266.4 516.5 L267.6 516.2 L268.8 515.9 L269.9 515.6 L271.1 515.5 L272.2 515.0 L273.4 514.7 L274.5 514.3 L275.7 513.8 L276.9 513.4 L278.0 512.9 L279.2 512.5 L280.3 512.2 L281.5 512.0 L282.6 511.7 L283.7 511.2 L284.8 510.6 L285.9 510.1 L287.0 509.5 L288.1 509.1 L289.2 508.8 L290.3 508.2 L291.3 507.9 L292.4 507.4 L293.5 506.7 L294.5 506.3 L295.6 505.7 L296.7 505.1 L297.8 504.6 L298.8 503.9 L299.9 503.1 L301.0 502.4 L302.0 501.8 L303.1 501.4 L304.2 501.0 L305.2 500.6 L306.3 500.1 L307.3 499.5 L308.4 499.0 L309.5 498.5 L310.5 497.9 L311.5 497.2 L312.5 496.3 L313.5 495.5 L314.4 494.8 L315.4 494.1 L316.3 493.4 L317.1 492.6 L317.9 491.7 L318.6 490.7 L319.3 489.7 L320.0 488.7 L320.6 487.6 L321.2 486.6 L321.8 485.5 L322.3 484.4 L322.8 483.3 L323.2 482.2 L323.7 481.1 L324.1 480.0 L324.5 478.8 L324.9 477.7 L325.3 476.6 L325.7 475.4 L326.1 474.3 L326.5 473.2 L326.9 472.0 L327.3 470.9 L327.6 469.8 L328.0 468.6 L328.4 467.5 L328.7 466.3 L329.0 465.1 L329.3 464.0 L329.6 462.8 L329.9 461.6 L330.2 460.5 L330.5 459.3 L330.8 458.2 L331.1 457.0 L331.5 455.8 L331.8 454.6 L332.2 453.5 L332.6 452.3 L333.1 451.3 L333.6 450.3 L334.5 449.1 L335.4 448.1 L336.2 447.5 L336.8 447.7 L337.3 448.6 L337.8 449.8 L338.2 451.2 L338.7 452.6 L339.1 454.0 L339.7 455.2 L340.3 456.2 L340.9 457.2 L341.6 458.2 L342.2 459.2 L343.0 460.2 L343.7 461.1 L344.5 461.9 L345.3 462.8 L346.2 463.7 L347.1 464.7 L347.9 465.6 L348.7 466.5 L349.4 467.3 L350.0 468.4 L350.6 469.4 L351.2 470.5 L351.9 471.5 L352.6 472.4 L353.3 473.2 L354.1 474.0 L355.0 474.9 L356.0 475.7 L356.9 476.5 L357.9 477.3 L358.9 477.7 L360.0 478.4 L361.1 478.9 L362.2 479.3 L363.4 480.1 L364.5 480.7 L365.7 481.1 L366.8 481.5 L368.0 481.4 L369.1 481.5 L370.3 481.6 L371.5 481.6 L372.7 481.9 L373.9 482.2 L375.0 482.8 L376.2 483.5 L377.4 483.8 L378.6 484.2 L379.7 484.4 L380.9 484.4 L382.1 484.6 L383.3 484.7 L384.5 484.6 L385.7 484.5 L386.9 484.4 L388.1 484.4 L389.3 484.6 L390.4 484.9 L391.5 484.7 L392.6 484.1 L393.6 483.2 L394.6 482.2 L395.5 481.3 L396.3 480.3 L397.1 479.3 L397.8 478.3 L398.5 477.3 L399.2 476.3 L399.8 475.2 L400.4 474.2 L401.0 473.1 L401.5 472.1 L402.0 471.0 L402.6 469.9 L403.0 468.8 L403.5 467.7 L404.0 466.6 L404.4 465.5 L404.9 464.3 L405.3 463.2 L405.7 462.1 L406.1 461.0 L406.5 459.8 L406.9 458.7 L407.3 457.5 L407.7 456.4 L408.0 455.3 L408.4 454.1 L408.7 453.0 L409.1 451.8 L409.4 450.6 L409.7 449.5 L410.0 448.3 L410.3 447.2 L410.6 446.0 L410.9 444.8 L411.2 443.7 L411.5 442.5 L411.7 441.3 L412.0 440.2 L412.3 439.0 L412.5 437.8 L412.8 436.6 L413.1 435.5 L413.4 434.3 L413.6 433.1 L413.9 432.0 L414.2 430.8 L414.4 429.6 L414.7 428.4 L414.9 427.2 L415.1 426.1 L415.3 424.9 L415.5 423.7 L415.7 422.5 L415.9 421.3 L416.1 420.1 L416.3 419.0 L416.4 417.8 L416.6 416.6 L416.8 415.4 L416.9 414.2 L417.1 413.0 L417.2 411.8 L417.3 410.6 L417.5 409.4 L417.6 408.2 L417.7 407.0 L417.8 405.8 L418.0 404.6 L418.1 403.4 L418.2 402.2 L418.3 401.0 L418.4 399.8 L418.5 398.6 L418.6 397.4 L418.7 396.2 L418.7 395.0 L418.8 393.8 L418.9 392.7 L419.0 391.5 L419.0 390.3 L419.1 389.1 L419.2 387.9 L419.2 386.7 L419.3 385.5 L419.4 384.3 L419.4 383.1 L419.5 381.9 L419.6 380.7 L419.6 379.5 L419.7 378.2 L419.7 377.0 L419.8 375.8 L419.8 374.6 L419.9 373.4 L419.9 372.2 L420.0 371.0 L420.0 369.8 L420.1 368.6 L420.1 367.4 L420.2 366.2 L420.2 365.0 L420.2 363.8 L420.3 362.6 L420.3 361.4 L420.4 360.2 L420.4 359.0 L420.4 357.8 L420.5 356.6 L420.5 355.4 L420.5 354.2 L420.5 353.0 L420.6 351.8 L420.6 350.6 L420.6 349.4 L420.7 348.2 L420.7 347.0 L420.7 345.8 L420.8 344.6 L420.8 343.4 L420.8 342.2 L420.9 341.0 L420.9 339.8 L420.9 338.6 L421.0 337.4 L421.0 336.2 L421.0 335.0 L421.1 333.8 L421.1 332.6 L421.2 331.4 L421.2 330.2 L421.3 329.0 L421.3 327.8 L421.4 326.6 L421.4 325.4 L421.5 324.2 L421.6 323.0 L421.7 321.8 L421.8 320.6 L421.9 319.4 L422.0 318.2 L422.1 317.0 L422.3 315.8 L422.4 314.6 L422.5 313.4 L422.7 312.2 L422.8 311.0 L422.9 309.8 L423.0 308.6 L423.0 307.4 L423.1 306.2 L423.2 305.1 L423.2 303.9 L423.3 302.7 L423.3 301.5 L423.4 300.2 L423.4 299.0 L423.5 297.8 L423.5 296.6 L423.6 295.4 L423.6 294.2 L423.7 293.0 L423.7 291.8 L423.8 290.6 L423.8 289.4 L423.9 288.2 L423.9 287.0 L424.0 285.8 L424.0 284.6 L424.1 283.4 L424.1 282.2 L424.2 281.0 L424.3 279.8 L424.3 278.6 L424.4 277.4 L424.5 276.2 L424.5 275.0 L424.6 273.8 L424.7 272.6 L424.7 271.4 L424.8 270.2 L424.8 269.0 L424.9 267.8 L425.0 266.6 L425.0 265.4 L425.1 264.2 L425.1 263.0 L425.2 261.8 L425.2 260.6 L425.3 259.4 L425.4 258.2 L425.4 257.0 L425.5 255.8 L425.5 254.6 L425.6 253.4 L425.6 252.2 L425.7 251.0 L425.7 249.8 L425.8 248.6 L425.8 247.4 L425.9 246.2 L425.9 245.0 L426.0 243.8 L426.0 242.6 L426.1 241.4 L426.1 240.2 L426.2 239.0 L426.2 237.8 L426.3 236.6 L426.3 235.4 L426.3 234.2 L426.4 233.0 L426.4 231.8 L426.5 230.6 L426.5 229.4 L426.6 228.2 L426.6 227.0 L426.7 225.8 L426.7 224.6 L426.8 223.4 L426.8 222.2 L426.9 221.0 L427.0 219.8 L427.0 218.6 L427.1 217.4 L427.2 216.2 L427.2 215.0 L427.3 213.8 L427.4 212.6 L427.4 211.4 L427.5 210.2 L427.6 209.0 L427.7 207.8 L427.7 206.6 L427.8 205.4 L427.9 204.2 L428.0 203.0 L428.0 201.8 L428.1 200.6 L428.2 199.4 L428.2 198.2 L428.3 197.0 L428.4 195.8 L428.4 194.6 L428.5 193.4 L428.5 192.2 L428.6 191.0 L428.7 189.8 L428.7 188.6 L428.8 187.4 L428.8 186.2 L428.9 185.0 L428.9 183.8 L429.0 182.6 L429.0 181.4 L429.1 180.2 L429.2 179.0 L429.2 177.8 L429.3 176.6 L429.3 175.4 L429.4 174.2 L429.5 173.0 L429.5 171.8 L429.6 170.6 L429.7 169.4 L429.8 168.2 L429.9 167.0 L430.0 165.8 L430.1 164.6 L430.2 163.4 L430.3 162.2 L430.4 161.0 L430.5 159.8 L430.6 158.6 L430.7 157.4 L430.8 156.2 L430.9 155.0 L431.0 153.8 L431.1 152.6 L431.2 151.5 L431.3 150.3 L431.4 149.1 L431.6 147.9 L431.7 146.7 L431.8 145.5 L431.9 144.3 L432.1 143.1 L432.2 141.9 L432.3 140.7 L432.5 139.5 L432.6 138.3 L432.7 137.1 L432.9 135.9 L433.0 134.7 L433.2 133.5 L433.4 132.3 L433.5 131.2 L433.7 130.0 L433.9 128.8 L434.1 127.6 L434.2 126.4 L434.4 125.2 L434.6 124.0 L434.8 122.8 L435.1 121.7 L435.3 120.5 L435.5 119.4 L435.7 120.5 L436.0 121.7 L436.2 122.8 L436.4 124.0 L436.6 125.2 L436.8 126.4 L437.0 127.6 L437.2 128.8 L437.3 130.0 L437.5 131.2 L437.6 132.3 L437.8 133.5 L437.9 134.7 L438.0 135.9 L438.2 137.1 L438.3 138.3 L438.4 139.5 L438.5 140.7 L438.6 141.9 L438.7 143.1 L438.8 144.3 L438.9 145.5 L439.0 146.7 L439.1 147.9 L439.2 149.1 L439.3 150.3 L439.4 151.5 L439.6 152.7 L439.7 153.9 L439.8 155.1 L439.9 156.3 L440.1 157.5 L440.2 158.7 L440.3 159.9 L440.4 161.0 L440.6 162.2 L440.7 163.4 L440.8 164.6 L440.9 165.8 L440.9 167.0 L441.0 168.2 L441.1 169.4 L441.1 170.6 L441.2 171.8 L441.3 173.0 L441.3 174.2 L441.4 175.4 L441.4 176.6 L441.5 177.8 L441.5 179.0 L441.6 180.2 L441.6 181.4 L441.7 182.6 L441.7 183.8 L441.7 185.0 L441.8 186.2 L441.8 187.4 L441.9 188.6 L441.9 189.8 L441.9 191.0 L442.0 192.2 L442.0 193.4 L442.0 194.6 L442.1 195.8 L442.1 197.0 L442.1 198.2 L442.1 199.4 L442.2 200.6 L442.2 201.9 L442.2 203.1 L442.2 204.3 L442.3 205.5 L442.3 206.7 L442.3 207.9 L442.4 209.1 L442.4 210.3 L442.4 211.5 L442.5 212.7 L442.5 213.9 L442.6 215.1 L442.6 216.3 L442.7 217.5 L442.7 218.7 L442.8 219.9 L442.8 221.1 L442.9 222.3 L443.0 223.5 L443.0 224.7 L443.1 225.9 L443.1 227.1 L443.2 228.3 L443.2 229.5 L443.3 230.7 L443.3 231.9 L443.4 233.1 L443.5 234.3 L443.5 235.5 L443.6 236.7 L443.6 237.9 L443.7 239.1 L443.8 240.3 L443.8 241.5 L443.9 242.7 L443.9 243.9 L444.0 245.1 L444.0 246.3 L444.1 247.5 L444.1 248.7 L444.2 249.9 L444.2 251.1 L444.3 252.3 L444.3 253.5 L444.3 254.7 L444.4 255.9 L444.4 257.1 L444.4 258.3 L444.5 259.5 L444.5 260.7 L444.5 261.9 L444.5 263.1 L444.6 264.3 L444.6 265.5 L444.6 266.7 L444.6 267.9 L444.6 269.1 L444.7 270.3 L444.7 271.5 L444.7 272.7 L444.7 273.9 L444.8 275.1 L444.8 276.3 L444.8 277.5 L444.9 278.7 L444.9 279.9 L444.9 281.1 L445.0 282.3 L445.0 283.5 L445.0 284.7 L445.1 285.9 L445.1 287.1 L445.2 288.3 L445.2 289.5 L445.2 290.7 L445.3 291.9 L445.3 293.1 L445.4 294.3 L445.4 295.5 L445.4 296.7 L445.5 297.9 L445.5 299.1 L445.6 300.3 L445.7 301.5 L445.7 302.7 L445.8 303.9 L445.9 305.1 L445.9 306.3 L446.0 307.5 L446.1 308.7 L446.1 309.9 L446.2 311.1 L446.3 312.3 L446.3 313.5 L446.4 314.7 L446.5 315.9 L446.5 317.1 L446.6 318.3 L446.6 319.5 L446.6 320.7 L446.7 321.9 L446.7 323.1 L446.8 324.3 L446.8 325.5 L446.8 326.7 L446.9 327.9 L446.9 329.1 L446.9 330.3 L447.0 331.5 L447.0 332.7 L447.1 333.9 L447.1 335.1 L447.2 336.3 L447.2 337.5 L447.3 338.7 L447.3 339.9 L447.4 341.1 L447.5 342.3 L447.6 343.5 L447.7 344.7 L447.7 345.9 L447.8 347.1 L447.9 348.3 L448.0 349.5 L448.1 350.7 L448.2 351.9 L448.3 353.1 L448.4 354.3 L448.4 355.5 L448.5 356.7 L448.6 357.9 L448.7 359.1 L448.7 360.3 L448.8 361.5 L448.9 362.7 L448.9 363.9 L449.0 365.1 L449.0 366.3 L449.1 367.5 L449.1 368.7 L449.1 369.9 L449.2 371.1 L449.2 372.3 L449.2 373.5 L449.3 374.7 L449.3 375.9 L449.4 377.1 L449.4 378.3 L449.4 379.5 L449.5 380.7 L449.5 381.9 L449.5 383.1 L449.6 384.3 L449.6 385.5 L449.7 386.7 L449.7 387.9 L449.7 389.1 L449.8 390.3 L449.8 391.5 L449.9 392.7 L449.9 393.9 L449.9 395.1 L450.0 396.3 L450.0 397.5 L450.1 398.7 L450.1 399.9 L450.2 401.1 L450.2 402.3 L450.3 403.5 L450.3 404.7 L450.4 405.9 L450.5 407.1 L450.5 408.3 L450.6 409.5 L450.7 410.7 L450.7 411.9 L450.8 413.1 L450.9 414.3 L451.0 415.5 L451.1 416.7 L451.1 417.9 L451.2 419.1 L451.3 420.3 L451.4 421.5 L451.4 422.7 L451.5 423.9 L451.6 425.1 L451.6 426.3 L451.7 427.5 L451.7 428.7 L451.8 429.9 L451.8 431.1 L451.8 432.3 L451.9 433.5 L451.9 434.7 L451.9 435.9 L452.0 437.1 L452.0 438.3 L452.1 439.5 L452.1 440.7 L452.1 441.9 L452.2 443.1 L452.3 444.3 L452.3 445.5 L452.4 446.7 L452.5 447.9 L452.6 449.1 L452.7 450.3 L452.8 451.5 L453.0 452.7 L453.2 453.9 L453.4 455.1 L453.6 456.2 L453.8 457.4 L454.1 458.6 L454.3 459.8 L454.6 461.0 L454.8 462.2 L455.1 463.3 L455.3 464.5 L455.6 465.7 L455.9 466.9 L456.1 468.0 L456.4 469.2 L456.7 470.4 L457.0 471.5 L457.3 472.7 L457.6 473.9 L458.0 475.0 L458.3 476.2 L458.7 477.3 L459.1 478.5 L459.4 479.6 L459.9 480.7 L460.3 481.8 L460.8 482.9 L461.3 484.0 L461.8 485.1 L462.4 486.2 L463.0 487.2 L463.6 488.3 L464.2 489.3 L464.8 490.3 L465.5 491.2 L466.3 492.2 L467.1 493.2 L467.8 494.1 L468.6 495.0 L469.3 495.8 L470.1 496.8 L470.8 497.8 L471.6 498.8 L472.4 499.8 L473.1 500.7 L473.9 501.5 L474.7 502.4 L475.5 503.3 L476.3 504.4 L477.2 505.5 L478.0 506.3 L478.9 506.9 L479.8 507.5 L480.7 508.1 L481.7 509.0 L482.6 509.9 L483.6 510.8 L484.5 511.5 L485.5 512.0 L486.6 512.4 L487.6 512.9 L488.7 513.5 L489.7 514.1 L490.8 514.7 L492.0 515.2 L493.1 515.6 L494.2 516.4 L495.4 517.0 L496.5 517.7 L497.6 518.4 L498.8 518.5 L499.9 518.4 L501.1 518.3 L502.3 518.1 L503.5 518.2 L504.6 518.4 L505.8 518.5 L507.0 518.6 L508.2 518.6 L509.4 518.9 L510.6 519.3 L511.8 519.7 L513.0 520.3 L514.2 520.5 L515.4 520.7 L516.6 520.7 L517.8 520.5 L519.0 520.5 L520.2 520.3 L521.4 520.4 L522.6 520.6 L523.8 520.8 L525.0 521.1 L526.2 521.3 L527.4 521.4 L528.6 521.4 L529.8 521.2 L531.0 521.0 L532.2 520.9 L533.4 521.0 L534.6 521.2 L535.8 521.5 L537.0 521.9 L538.2 522.1 L539.4 522.1 L540.6 522.0 L541.8 521.9 L543.0 521.7 L544.2 521.7 L545.4 521.6 L546.6 521.4 L547.8 521.2 L549.0 521.0 L550.2 520.9 L551.4 520.9 L552.6 521.0 L553.8 521.0 L555.0 521.2 L556.2 521.3 L557.4 521.5 L558.6 521.8 L559.8 522.0 L561.0 522.2 L562.2 522.3 L563.4 522.3 L564.6 522.4 L565.8 522.3 L567.0 522.1 L568.2 522.1 L569.4 522.0 L570.6 522.1 L571.8 522.2 L573.0 522.3 L574.2 522.4 L575.4 522.2 L576.6 521.9 L577.8 521.9 L579.0 521.9 L580.2 522.2 L581.4 522.8 L582.6 523.0 L583.8 523.2 L585.0 523.1 L586.2 522.6 L587.4 522.4 L588.6 522.0 L589.8 521.8 L591.0 521.6 L592.2 521.5 L593.4 521.7 L594.7 522.0 L595.9 522.5 L597.1 522.8 L598.3 523.0 L599.5 523.0 L600.7 523.0 L601.9 523.0 L603.1 522.8 L604.3 522.7 L605.5 522.5 L606.7 522.4 L607.9 522.4 L609.1 522.6 L610.3 522.9 L611.5 523.2 L612.7 523.5 L613.9 523.6 L615.1 523.5 L616.3 523.3 L617.5 523.0 L618.7 522.6 L619.9 522.5 L621.1 522.2 L622.3 522.2 L623.5 522.4 L624.7 522.5 L625.9 522.8 L627.1 523.0 L628.3 523.1 L629.5 523.4 L630.7 523.6 L631.9 523.8 L633.1 523.7 L634.3 523.6 L635.5 523.6 L636.7 523.5 L637.9 523.7 L639.1 523.7 L640.3 523.7 L641.5 523.7 L642.7 523.5 L643.9 523.6 L645.1 523.5 L646.3 523.3 L647.5 523.1 L648.7 522.9 L649.9 522.8 L651.1 522.9 L652.3 523.2 L653.5 523.2 L654.7 523.4 L655.9 523.3 L657.1 523.1 L658.3 523.1 L659.5 523.2 L660.7 523.3 L661.9 523.5 L663.1 523.5 L664.3 523.3 L665.5 523.3 L666.7 523.1 L667.9 522.9 L669.1 523.1 L670.3 522.9 L671.5 523.0 L672.7 523.0 L673.9 522.9 L675.1 523.2 L676.4 523.3 L677.6 523.5 L678.8 523.5 L680.0 523.3 L681.2 523.1 L682.4 522.9 L683.6 522.9 L684.8 523.0 L686.0 523.1 L687.2 523.3 L688.4 523.5 L689.6 523.7 L690.8 523.8 L692.0 523.7 L693.2 523.6 L694.4 523.2 L695.6 523.2 L696.8 523.2 L698.0 523.4 L699.2 523.6 L700.4 523.7 L701.6 523.7 L702.8 523.7 L704.0 523.4 L705.2 523.1 L706.4 522.6 L707.6 522.3 L708.8 522.4 L710.0 522.8 L711.2 523.4 L712.4 524.0 L713.6 524.4 L714.8 524.5 L716.0 524.3 L717.2 524.2 L718.4 524.1 L719.6 523.9 L720.8 524.0 L722.0 524.0 L723.2 523.7 L724.4 523.8 L725.6 523.7 L726.8 523.6 L728.0 523.7 L729.2 523.5 L730.4 523.6 L731.6 523.6 L732.8 523.6 L734.0 523.6 L735.2 523.7 L736.4 523.8 L737.6 524.0 L738.8 524.2 L740.0 524.1 L741.2 524.0 L742.4 523.8 L743.6 523.7 L744.8 524.0 L746.0 524.1 L747.2 524.2 L748.4 524.0 L749.6 523.8 L750.8 523.6 L752.0 523.5 L753.2 523.7 L754.4 523.8 L755.7 523.7 L756.9 523.7 L758.1 523.4 L759.3 523.1 L760.5 523.0 L761.7 523.1 L762.9 523.3 L764.1 523.8 L765.3 524.1 L766.5 524.1 L767.7 524.2 L768.9 524.0 L770.1 523.8 L771.3 523.8 L772.5 523.6 L773.7 523.6 L774.9 523.7 L776.1 523.7 L777.3 523.9 L778.5 523.8 L779.7 523.6 L780.9 523.4 L782.1 523.1 L783.3 523.0 L784.5 523.0 L785.7 523.2 L786.9 523.4 L788.1 523.6 L789.3 523.8 L790.5 523.8 L791.7 523.7 L792.9 523.7 L794.1 523.7" stroke="#0000ff" stroke-dasharray="5.36 8.94 1.79 8.94" stroke-dashoffset="21.18"/>
<path id="A15" d="M85.6 524.5 L86.8 524.2 L88.0 524.0 L89.2 523.6 L90.4 523.3 L91.6 523.3 L92.8 523.4 L94.0 523.7 L95.2 523.9 L96.4 524.0 L97.6 524.0 L98.8 523.9 L100.0 523.9 L101.2 524.0 L102.4 524.2 L103.6 524.4 L104.8 524.4 L106.0 524.1 L107.2 523.7 L108.4 523.5 L109.6 523.7 L110.8 524.0 L112.0 524.3 L113.2 524.4 L114.5 524.3 L115.7 524.1 L116.9 524.2 L118.1 524.1 L119.3 524.0 L120.5 523.9 L121.7 523.7 L122.9 523.7 L124.1 523.8 L125.3 523.7 L126.5 523.6 L127.7 523.4 L128.9 523.2 L130.1 523.1 L131.3 523.2 L132.5 523.3 L133.7 523.4 L134.9 523.6 L136.1 523.8 L137.3 524.0 L138.5 524.4 L139.7 524.5 L140.9 524.6 L142.1 524.4 L143.3 523.7 L144.5 523.2 L145.7 522.8 L146.9 522.8 L148.1 523.0 L149.3 523.4 L150.5 523.8 L151.7 524.0 L152.9 524.3 L154.1 524.1 L155.3 523.7 L156.5 523.4 L157.7 523.0 L158.9 522.8 L160.1 523.2 L161.3 523.4 L162.5 523.8 L163.7 524.1 L164.9 523.9 L166.1 523.7 L167.3 523.6 L168.5 523.4 L169.7 523.5 L170.9 523.8 L172.1 523.9 L173.3 523.9 L174.5 523.8 L175.7 523.6 L176.9 523.5 L178.1 523.3 L179.3 523.1 L180.5 522.9 L181.7 522.8 L182.9 522.8 L184.1 522.8 L185.3 522.9 L186.5 523.0 L187.7 523.1 L188.9 523.3 L190.1 523.4 L191.3 523.3 L192.5 523.2 L193.7 523.3 L194.9 523.3 L196.1 523.2 L197.3 523.2 L198.5 523.0 L199.7 522.8 L200.9 522.7 L202.1 522.3 L203.2 521.9 L204.4 521.6 L205.6 521.6 L206.8 521.7 L208.0 521.8 L209.2 521.9 L210.4 521.8 L211.6 521.7 L212.8 521.7 L214.0 521.5 L215.2 521.3 L216.4 520.8 L217.6 520.3 L218.8 519.7 L220.0 519.4 L221.1 519.0 L222.3 518.7 L223.5 518.5 L224.6 518.2 L225.8 518.1 L227.0 518.1 L228.1 518.1 L229.3 518.0 L230.4 517.6 L231.6 517.1 L232.7 516.5 L233.9 516.0 L235.0 515.7 L236.1 515.6 L237.3 515.3 L238.4 515.0 L239.5 514.5 L240.6 513.8 L241.6 513.2 L242.7 512.6 L243.8 512.3 L244.9 512.0 L245.9 511.8 L247.0 511.5 L248.0 510.9 L249.1 510.4 L250.1 509.7 L251.1 508.8 L252.1 507.9 L253.0 506.7 L254.0 505.5 L254.9 504.6 L255.8 503.8 L256.7 503.3 L257.6 502.8 L258.5 502.2 L259.4 501.5 L260.3 500.6 L261.1 499.6 L262.0 498.7 L262.8 497.9 L263.7 497.2 L264.5 496.4 L265.3 495.5 L266.1 494.5 L266.9 493.5 L267.7 492.5 L268.5 491.6 L269.3 490.6 L270.1 489.8 L270.9 488.9 L271.6 487.9 L272.4 487.0 L273.2 486.2 L273.9 485.3 L274.7 484.4 L275.5 483.4 L276.2 482.5 L276.9 481.5 L277.6 480.6 L278.4 479.6 L279.1 478.7 L279.9 477.8 L280.7 476.9 L281.5 476.1 L282.4 475.2 L283.3 474.3 L284.3 473.5 L285.3 472.7 L286.3 471.9 L287.3 471.3 L288.3 470.9 L289.4 470.4 L290.5 470.2 L291.7 469.9 L292.9 469.4 L294.1 468.9 L295.2 468.1 L296.4 467.5 L297.6 467.3 L298.7 467.1 L299.9 467.0 L301.1 467.0 L302.2 466.6 L303.3 466.6 L304.5 466.3 L305.6 466.1 L306.7 465.9 L307.8 465.3 L308.9 464.8 L309.9 463.9 L310.8 463.1 L311.7 462.4 L312.6 461.6 L313.5 460.8 L314.3 460.0 L315.1 459.1 L315.9 458.2 L316.8 457.2 L317.6 456.2 L318.4 455.1 L319.1 454.1 L319.9 453.1 L320.6 451.9 L321.4 450.7 L322.3 449.5 L323.3 448.6 L324.3 448.2 L325.4 447.8 L326.6 447.7 L327.7 447.4 L328.8 447.1 L329.9 446.7 L331.0 446.2 L332.0 445.5 L333.0 444.8 L334.1 444.3 L335.2 443.7 L336.2 443.5 L337.4 443.4 L338.7 443.3 L339.9 443.4 L340.5 443.5 L340.9 444.3 L341.3 445.5 L341.6 447.0 L341.9 448.5 L342.2 449.8 L342.6 451.0 L342.8 452.2 L343.1 453.4 L343.3 454.5 L343.6 455.7 L343.9 456.9 L344.2 458.0 L344.6 459.1 L345.0 460.2 L345.6 461.2 L346.3 462.2 L347.0 463.2 L347.7 464.2 L348.4 465.3 L349.0 466.3 L349.5 467.4 L350.0 468.6 L350.6 469.7 L351.1 470.8 L351.7 471.8 L352.4 472.8 L353.1 473.7 L354.0 474.3 L354.9 474.8 L356.0 475.3 L357.1 475.8 L358.1 476.6 L359.2 477.2 L360.3 477.7 L361.5 478.3 L362.6 478.6 L363.8 478.8 L365.0 479.0 L366.2 479.1 L367.4 479.2 L368.5 479.6 L369.7 480.0 L370.9 480.2 L372.0 480.2 L373.2 480.0 L374.4 479.8 L375.6 479.9 L376.7 480.4 L377.9 481.2 L379.1 482.0 L380.2 482.7 L381.4 483.3 L382.5 484.1 L383.7 484.6 L384.8 485.1 L386.0 485.4 L387.2 485.1 L388.5 484.8 L389.6 484.5 L390.5 484.0 L391.1 483.0 L391.7 482.0 L392.3 480.7 L392.8 479.4 L393.4 478.2 L394.0 477.2 L394.8 476.3 L395.6 475.5 L396.5 474.7 L397.3 473.8 L398.0 472.7 L398.6 471.7 L399.3 470.7 L399.9 469.6 L400.5 468.6 L401.0 467.5 L401.6 466.4 L402.1 465.3 L402.6 464.2 L403.1 463.1 L403.5 462.0 L403.9 460.9 L404.3 459.7 L404.7 458.6 L405.0 457.5 L405.3 456.3 L405.7 455.2 L406.0 454.0 L406.3 452.8 L406.5 451.6 L406.8 450.5 L407.1 449.3 L407.3 448.1 L407.6 446.9 L407.8 445.7 L408.1 444.6 L408.3 443.4 L408.6 442.2 L408.8 441.0 L409.0 439.9 L409.2 438.7 L409.4 437.5 L409.6 436.3 L409.8 435.1 L410.0 433.9 L410.2 432.8 L410.4 431.6 L410.6 430.4 L410.8 429.2 L410.9 428.0 L411.1 426.8 L411.3 425.6 L411.4 424.4 L411.6 423.2 L411.7 422.0 L411.8 420.9 L412.0 419.7 L412.1 418.5 L412.2 417.3 L412.4 416.1 L412.5 414.9 L412.6 413.7 L412.8 412.5 L412.9 411.3 L413.1 410.1 L413.3 408.9 L413.5 407.7 L413.7 406.6 L414.0 405.4 L414.2 404.2 L414.3 403.0 L414.4 401.8 L414.6 400.6 L414.7 399.4 L414.8 398.3 L414.9 397.1 L415.0 395.9 L415.0 394.7 L415.1 393.5 L415.2 392.3 L415.3 391.1 L415.3 389.9 L415.4 388.7 L415.5 387.5 L415.6 386.3 L415.6 385.1 L415.7 383.9 L415.8 382.7 L415.8 381.5 L415.9 380.3 L416.0 379.1 L416.0 377.9 L416.1 376.7 L416.2 375.5 L416.2 374.3 L416.3 373.1 L416.4 371.9 L416.4 370.7 L416.5 369.5 L416.5 368.3 L416.6 367.1 L416.6 365.9 L416.7 364.7 L416.8 363.5 L416.8 362.3 L416.9 361.1 L416.9 359.9 L417.0 358.7 L417.0 357.5 L417.1 356.3 L417.2 355.1 L417.2 353.9 L417.3 352.7 L417.3 351.5 L417.4 350.3 L417.5 349.1 L417.5 347.9 L417.6 346.7 L417.6 345.5 L417.7 344.3 L417.7 343.1 L417.8 341.9 L417.9 340.7 L417.9 339.5 L418.0 338.3 L418.0 337.1 L418.1 335.9 L418.1 334.7 L418.2 333.5 L418.3 332.3 L418.3 331.1 L418.4 329.9 L418.4 328.7 L418.5 327.5 L418.5 326.3 L418.6 325.1 L418.6 323.9 L418.6 322.7 L418.7 321.5 L418.7 320.3 L418.8 319.1 L418.8 317.9 L418.9 316.7 L418.9 315.5 L418.9 314.3 L419.0 313.1 L419.0 311.9 L419.0 310.7 L419.1 309.5 L419.1 308.3 L419.2 307.1 L419.2 305.9 L419.2 304.7 L419.3 303.5 L419.3 302.3 L419.3 301.1 L419.4 299.9 L419.4 298.7 L419.4 297.5 L419.5 296.3 L419.5 295.1 L419.5 293.9 L419.6 292.7 L419.6 291.5 L419.6 290.3 L419.7 289.1 L419.7 287.9 L419.7 286.7 L419.8 285.5 L419.8 284.3 L419.8 283.1 L419.9 281.9 L419.9 280.7 L419.9 279.5 L420.0 278.3 L420.0 277.1 L420.0 275.9 L420.1 274.7 L420.1 273.5 L420.1 272.3 L420.2 271.1 L420.2 269.9 L420.2 268.7 L420.2 267.5 L420.3 266.3 L420.3 265.1 L420.3 263.9 L420.4 262.7 L420.4 261.5 L420.4 260.3 L420.5 259.1 L420.5 257.9 L420.5 256.7 L420.6 255.5 L420.6 254.3 L420.7 253.1 L420.7 251.9 L420.7 250.7 L420.8 249.5 L420.8 248.3 L420.8 247.1 L420.9 245.9 L420.9 244.7 L421.0 243.5 L421.0 242.3 L421.0 241.1 L421.1 239.9 L421.1 238.7 L421.2 237.5 L421.2 236.3 L421.2 235.1 L421.3 233.9 L421.3 232.7 L421.4 231.5 L421.4 230.3 L421.5 229.1 L421.5 227.9 L421.6 226.7 L421.6 225.5 L421.7 224.3 L421.7 223.1 L421.8 221.9 L421.8 220.7 L421.9 219.5 L421.9 218.3 L422.0 217.1 L422.0 215.9 L422.1 214.7 L422.1 213.5 L422.2 212.3 L422.2 211.1 L422.3 209.9 L422.3 208.7 L422.4 207.5 L422.4 206.3 L422.5 205.1 L422.5 203.9 L422.6 202.7 L422.6 201.5 L422.7 200.3 L422.7 199.1 L422.8 197.9 L422.8 196.7 L422.9 195.5 L422.9 194.3 L422.9 193.1 L423.0 191.9 L423.0 190.7 L423.1 189.5 L423.1 188.3 L423.2 187.1 L423.2 185.9 L423.3 184.7 L423.3 183.5 L423.3 182.3 L423.4 181.1 L423.4 179.9 L423.5 178.7 L423.5 177.5 L423.5 176.3 L423.6 175.1 L423.6 173.9 L423.6 172.7 L423.7 171.5 L423.7 170.3 L423.7 169.1 L423.8 167.9 L423.8 166.7 L423.8 165.5 L423.9 164.3 L423.9 163.1 L423.9 161.9 L424.0 160.7 L424.0 159.5 L424.0 158.3 L424.0 157.1 L424.1 155.9 L424.1 154.7 L424.1 153.5 L424.2 152.3 L424.2 151.1 L424.2 149.9 L424.3 148.7 L424.3 147.5 L424.3 146.3 L424.3 145.1 L424.4 143.9 L424.4 142.7 L424.4 141.5 L424.5 140.2 L424.5 139.0 L424.5 137.8 L424.6 136.6 L424.6 135.4 L424.6 134.2 L424.7 133.0 L424.7 131.8 L424.7 130.6 L424.8 129.4 L424.8 128.2 L424.8 127.0 L424.9 125.8 L424.9 124.6 L425.0 123.4 L425.0 122.2 L425.0 121.0 L425.1 119.8 L425.1 118.6 L425.2 117.4 L425.2 116.2 L425.3 115.0 L425.3 113.8 L425.4 112.6 L425.4 111.4 L425.5 110.2 L425.5 109.0 L425.6 107.8 L425.6 106.6 L425.7 105.4 L425.7 104.2 L425.8 103.0 L425.9 101.8 L425.9 100.6 L426.0 99.4 L426.1 98.3 L426.2 97.1 L426.2 95.9 L426.3 94.7 L426.4 93.5 L426.5 92.3 L426.6 91.1 L426.8 89.9 L426.9 88.7 L427.1 87.5 L427.2 86.3 L427.3 85.1 L427.5 83.9 L427.7 82.7 L427.8 81.5 L427.9 80.3 L428.1 79.1 L428.2 78.0 L428.4 76.8 L428.5 75.6 L428.7 74.4 L428.8 73.2 L429.0 72.0 L429.1 70.8 L429.3 69.6 L429.5 68.4 L429.6 67.2 L429.8 66.1 L430.0 64.9 L430.1 63.7 L430.3 62.5 L430.5 61.2 L430.7 62.5 L430.9 63.7 L431.0 64.9 L431.2 66.1 L431.3 67.2 L431.4 68.4 L431.5 69.6 L431.6 70.8 L431.7 72.0 L431.8 73.2 L431.9 74.4 L432.0 75.6 L432.1 76.8 L432.2 78.0 L432.3 79.2 L432.4 80.4 L432.5 81.6 L432.6 82.8 L432.7 84.0 L432.8 85.2 L432.9 86.4 L433.0 87.6 L433.1 88.8 L433.2 90.0 L433.2 91.2 L433.3 92.4 L433.4 93.6 L433.5 94.8 L433.6 96.0 L433.7 97.2 L433.8 98.4 L433.9 99.6 L434.0 100.8 L434.1 102.0 L434.2 103.2 L434.2 104.4 L434.3 105.6 L434.4 106.8 L434.5 108.0 L434.6 109.2 L434.7 110.4 L434.7 111.6 L434.8 112.8 L434.8 114.0 L434.9 115.2 L435.0 116.4 L435.0 117.6 L435.1 118.8 L435.1 120.0 L435.2 121.2 L435.2 122.4 L435.3 123.6 L435.3 124.8 L435.4 126.0 L435.4 127.2 L435.4 128.4 L435.5 129.6 L435.5 130.8 L435.6 132.0 L435.6 133.2 L435.6 134.4 L435.7 135.6 L435.7 136.8 L435.8 138.0 L435.8 139.2 L435.8 140.4 L435.9 141.6 L435.9 142.8 L435.9 144.0 L436.0 145.2 L436.0 146.4 L436.0 147.6 L436.1 148.8 L436.1 150.0 L436.1 151.2 L436.2 152.4 L436.2 153.6 L436.2 154.8 L436.3 156.0 L436.3 157.2 L436.3 158.4 L436.4 159.6 L436.4 160.8 L436.5 162.0 L436.5 163.2 L436.5 164.4 L436.6 165.6 L436.6 166.8 L436.6 168.0 L436.7 169.2 L436.7 170.4 L436.7 171.6 L436.8 172.8 L436.8 174.0 L436.8 175.2 L436.9 176.4 L436.9 177.6 L437.0 178.8 L437.0 180.0 L437.0 181.2 L437.1 182.4 L437.1 183.6 L437.2 184.8 L437.2 186.0 L437.2 187.2 L437.3 188.4 L437.3 189.6 L437.4 190.8 L437.4 192.0 L437.5 193.2 L437.5 194.4 L437.5 195.6 L437.6 196.8 L437.6 198.0 L437.7 199.2 L437.7 200.4 L437.7 201.6 L437.8 202.8 L437.8 204.0 L437.9 205.2 L437.9 206.4 L437.9 207.6 L438.0 208.8 L438.0 210.0 L438.1 211.2 L438.1 212.4 L438.2 213.6 L438.2 214.8 L438.2 216.0 L438.3 217.2 L438.3 218.4 L438.4 219.6 L438.4 220.8 L438.4 222.0 L438.5 223.2 L438.5 224.4 L438.6 225.6 L438.6 226.8 L438.6 228.0 L438.7 229.2 L438.7 230.4 L438.8 231.6 L438.8 232.8 L438.8 234.0 L438.9 235.2 L438.9 236.4 L439.0 237.6 L439.0 238.8 L439.0 240.0 L439.1 241.2 L439.1 242.4 L439.1 243.6 L439.2 244.8 L439.2 246.0 L439.3 247.2 L439.3 248.4 L439.3 249.6 L439.4 250.8 L439.4 252.0 L439.4 253.2 L439.5 254.4 L439.5 255.6 L439.5 256.8 L439.6 258.0 L439.6 259.2 L439.6 260.4 L439.7 261.6 L439.7 262.8 L439.7 264.0 L439.8 265.2 L439.8 266.4 L439.8 267.6 L439.9 268.8 L439.9 270.0 L439.9 271.2 L440.0 272.4 L440.0 273.6 L440.0 274.8 L440.1 276.0 L440.1 277.2 L440.1 278.4 L440.2 279.6 L440.2 280.8 L440.3 282.0 L440.3 283.2 L440.3 284.4 L440.4 285.6 L440.4 286.8 L440.4 288.0 L440.5 289.2 L440.5 290.4 L440.5 291.6 L440.6 292.8 L440.6 294.0 L440.7 295.2 L440.7 296.4 L440.7 297.6 L440.8 298.8 L440.8 300.0 L440.8 301.2 L440.9 302.4 L440.9 303.6 L441.0 304.8 L441.0 306.0 L441.0 307.2 L441.1 308.4 L441.1 309.6 L441.1 310.8 L441.2 312.0 L441.2 313.2 L441.3 314.4 L441.3 315.6 L441.3 316.8 L441.4 318.0 L441.4 319.2 L441.5 320.4 L441.5 321.6 L441.6 322.8 L441.6 324.0 L441.6 325.2 L441.7 326.4 L441.7 327.6 L441.8 328.8 L441.8 330.0 L441.9 331.2 L441.9 332.4 L441.9 333.6 L442.0 334.8 L442.0 336.0 L442.1 337.2 L442.1 338.4 L442.2 339.6 L442.2 340.8 L442.2 342.0 L442.3 343.2 L442.3 344.4 L442.4 345.6 L442.4 346.8 L442.5 348.0 L442.5 349.2 L442.6 350.4 L442.6 351.6 L442.7 352.8 L442.7 354.0 L442.8 355.2 L442.8 356.4 L442.9 357.6 L443.0 358.8 L443.0 360.0 L443.1 361.2 L443.1 362.4 L443.2 363.6 L443.3 364.8 L443.3 366.0 L443.4 367.2 L443.5 368.4 L443.6 369.6 L443.7 370.8 L443.7 372.0 L443.8 373.2 L443.9 374.4 L444.0 375.6 L444.1 376.8 L444.2 378.0 L444.3 379.2 L444.4 380.4 L444.5 381.6 L444.6 382.8 L444.7 384.0 L444.8 385.2 L444.9 386.4 L445.0 387.6 L445.1 388.8 L445.2 390.0 L445.3 391.2 L445.4 392.4 L445.5 393.6 L445.6 394.8 L445.7 396.0 L445.9 397.2 L446.0 398.4 L446.1 399.5 L446.2 400.7 L446.4 401.9 L446.5 403.1 L446.6 404.3 L446.7 405.5 L446.8 406.7 L446.9 407.9 L446.9 409.1 L447.0 410.3 L447.0 411.5 L447.1 412.7 L447.2 413.9 L447.2 415.1 L447.3 416.3 L447.3 417.5 L447.4 418.7 L447.5 419.9 L447.5 421.1 L447.6 422.3 L447.7 423.5 L447.8 424.7 L447.9 425.9 L447.9 427.1 L448.0 428.3 L448.1 429.5 L448.2 430.7 L448.3 431.9 L448.4 433.1 L448.5 434.3 L448.6 435.5 L448.7 436.7 L448.8 437.9 L448.9 439.1 L449.0 440.3 L449.1 441.5 L449.3 442.7 L449.4 443.9 L449.5 445.1 L449.7 446.3 L449.8 447.5 L450.0 448.6 L450.2 449.8 L450.3 451.0 L450.5 452.2 L450.7 453.4 L450.9 454.6 L451.1 455.7 L451.4 456.9 L451.7 458.1 L452.0 459.2 L452.3 460.4 L452.7 461.5 L453.1 462.7 L453.5 463.8 L453.8 465.0 L454.2 466.1 L454.6 467.2 L455.0 468.4 L455.4 469.5 L455.7 470.7 L456.1 471.8 L456.4 473.0 L456.8 474.1 L457.1 475.3 L457.5 476.4 L457.9 477.6 L458.2 478.7 L458.6 479.9 L459.1 481.0 L459.5 482.1 L459.9 483.2 L460.4 484.3 L460.9 485.4 L461.5 486.5 L462.0 487.6 L462.6 488.6 L463.2 489.7 L463.8 490.7 L464.5 491.7 L465.1 492.7 L465.8 493.6 L466.5 494.5 L467.2 495.4 L468.0 496.4 L468.8 497.5 L469.6 498.5 L470.5 499.5 L471.4 500.5 L472.3 501.3 L473.2 502.1 L474.1 503.0 L475.1 503.8 L476.0 504.5 L477.0 505.2 L478.1 505.8 L479.1 506.2 L480.2 506.5 L481.2 506.8 L482.3 507.1 L483.4 507.3 L484.5 507.6 L485.7 507.8 L486.8 508.0 L488.0 508.3 L489.1 508.6 L490.3 509.1 L491.5 509.7 L492.7 510.5 L493.9 511.2 L495.1 511.6 L496.3 511.9 L497.5 511.7 L498.7 511.3 L499.9 510.9 L501.1 510.3 L502.3 510.1 L503.5 509.8 L504.7 509.6 L505.9 509.6 L507.1 509.5 L508.3 509.6 L509.5 509.6 L510.7 509.7 L511.9 509.9 L513.1 509.8 L514.3 509.8 L515.5 509.6 L516.7 509.3 L517.9 509.1 L519.1 509.3 L520.3 509.4 L521.5 509.6 L522.7 509.7 L523.9 509.5 L525.1 509.3 L526.3 509.0 L527.5 508.9 L528.7 508.9 L529.9 509.2 L531.1 509.4 L532.2 509.7 L533.4 509.8 L534.5 510.2 L535.7 510.6 L536.8 511.3 L537.9 512.0 L539.0 512.6 L540.0 513.2 L541.1 513.5 L542.1 514.1 L543.1 514.8 L544.1 515.4 L545.1 516.2 L546.2 516.6 L547.2 516.8 L548.3 517.0 L549.4 517.1 L550.6 517.4 L551.7 518.0 L552.9 518.7 L554.0 519.4 L555.2 520.0 L556.4 520.3 L557.6 520.6 L558.8 520.7 L560.0 520.5 L561.1 520.5 L562.3 520.3 L563.5 520.4 L564.7 520.8 L565.9 521.1 L567.1 521.5 L568.3 521.7 L569.5 521.7 L570.7 521.7 L571.9 521.6 L573.1 521.8 L574.3 522.0 L575.5 522.1 L576.7 522.3 L577.9 522.4 L579.1 522.5 L580.3 522.7 L581.5 522.9 L582.7 523.0 L583.9 522.9 L585.1 522.7 L586.3 522.5 L587.5 522.5 L588.7 522.5 L589.9 522.6 L591.1 522.6 L592.3 522.6 L593.5 522.8 L594.7 522.7 L595.9 522.8 L597.1 522.6 L598.3 522.4 L599.5 522.3 L600.7 522.0 L601.9 521.7 L603.1 521.5 L604.3 521.3 L605.5 521.3 L606.7 521.5 L607.9 522.0 L609.1 522.4 L610.3 522.7 L611.5 523.1 L612.7 523.1 L613.9 523.0 L615.1 522.8 L616.3 522.4 L617.5 522.3 L618.7 522.5 L619.9 522.5 L621.1 522.7 L622.3 522.5 L623.5 522.4 L624.7 522.5 L625.9 522.7 L627.1 522.8 L628.3 522.9 L629.5 522.7 L630.7 522.6 L631.9 522.6 L633.1 522.7 L634.3 522.7 L635.5 522.6 L636.7 522.5 L637.9 522.3 L639.1 522.4 L640.3 522.6 L641.5 522.7 L642.7 523.1 L643.9 523.2 L645.1 523.3 L646.3 523.3 L647.5 523.3 L648.7 523.4 L649.9 523.4 L651.1 523.4 L652.3 523.4 L653.5 523.3 L654.7 523.2 L655.9 523.2 L657.1 523.1 L658.3 522.9 L659.5 522.6 L660.7 522.3 L661.9 522.0 L663.1 522.0 L664.3 521.9 L665.5 521.9 L666.7 521.9 L667.9 522.0 L669.1 522.3 L670.3 522.8 L671.5 523.1 L672.7 523.4 L673.9 523.6 L675.1 523.6 L676.3 523.5 L677.5 523.5 L678.7 523.2 L679.9 523.1 L681.1 522.9 L682.3 522.9 L683.5 522.9 L684.7 523.0 L685.9 523.2 L687.1 523.2 L688.3 523.3 L689.5 523.2 L690.7 523.1 L691.9 523.2 L693.1 523.2 L694.3 523.2 L695.5 523.2 L696.7 523.1 L697.9 523.0 L699.1 523.0 L700.3 523.0 L701.5 522.9 L702.7 522.9 L703.9 523.0 L705.1 523.0 L706.3 523.4 L707.5 523.8 L708.7 524.0 L709.9 524.1 L711.1 524.1 L712.3 523.7 L713.5 523.5 L714.7 523.3 L715.9 523.1 L717.1 523.3 L718.3 523.2 L719.5 523.5 L720.7 523.7 L721.9 523.8 L723.1 523.9 L724.3 523.6 L725.5 523.4 L726.7 523.3 L727.9 523.1 L729.1 523.3 L730.3 523.3 L731.5 523.4 L732.7 523.5 L733.9 523.5 L735.2 523.4 L736.4 523.2 L737.6 522.9 L738.8 522.6 L740.0 522.4 L741.2 522.1 L742.4 521.8 L743.6 521.9 L744.8 522.1 L746.0 522.4 L747.2 522.5 L748.4 522.5 L749.6 522.7 L750.8 523.1 L752.0 523.8 L753.2 524.3 L754.4 524.3 L755.6 524.2 L756.8 523.8 L758.0 523.6 L759.2 523.6 L760.4 523.5 L761.6 523.4 L762.8 523.4 L764.0 523.4 L765.2 523.4 L766.4 523.6 L767.6 523.6 L768.8 523.6 L770.0 523.6 L771.2 523.7 L772.4 523.9 L773.6 523.9 L774.8 524.1 L776.0 524.0 L777.2 523.8 L778.5 523.5 L779.7 523.2 L780.9 523.2 L782.1 523.5 L783.3 523.9 L784.5 524.0 L785.7 524.1 L786.9 523.8 L788.1 523.6 L789.3 523.5 L790.5 523.4 L791.7 523.4 L792.9 523.3 L794.1 523.2" stroke="#0000ff" stroke-dasharray="1.79 5.36" stroke-dashoffset="5.09"/>
<path id="B02" d="M85.6 524.1 L86.8 524.1 L88.0 524.0 L89.2 523.8 L90.4 523.6 L91.6 523.3 L92.8 523.3 L94.0 523.3 L95.2 523.5 L96.4 523.8 L97.6 524.1 L98.8 524.3 L100.0 524.4 L101.2 524.4 L102.4 524.5 L103.6 524.6 L104.8 524.6 L106.0 524.8 L107.2 524.6 L108.4 524.4 L109.6 524.1 L110.8 523.9 L112.0 523.7 L113.2 523.5 L114.4 523.6 L115.6 523.7 L116.8 524.0 L118.0 524.5 L119.2 524.5 L120.4 524.3 L121.6 523.6 L122.8 523.2 L124.0 523.0 L125.2 523.1 L126.4 523.5 L127.6 523.6 L128.8 523.9 L130.0 524.2 L131.2 524.3 L132.4 524.6 L133.7 524.5 L134.9 524.4 L136.1 524.4 L137.3 524.2 L138.5 524.2 L139.7 524.3 L140.9 524.2 L142.1 524.4 L143.3 524.6 L144.5 525.0 L145.7 525.2 L146.9 525.0 L148.1 524.9 L149.3 524.4 L150.5 524.3 L151.7 524.4 L152.9 524.4 L154.1 524.5 L155.3 524.4 L156.5 524.2 L157.7 524.0 L158.9 523.8 L160.1 523.6 L161.3 523.5 L162.5 523.6 L163.7 523.7 L164.9 524.0 L166.1 524.5 L167.3 524.5 L168.5 524.6 L169.7 524.3 L170.9 523.9 L172.1 523.9 L173.3 523.7 L174.5 523.7 L175.7 523.8 L176.9 523.9 L178.1 524.1 L179.3 524.3 L180.5 524.3 L181.7 524.3 L182.9 524.1 L184.1 524.2 L185.3 524.4 L186.5 524.5 L187.7 524.6 L188.9 524.5 L190.1 524.4 L191.3 524.3 L192.5 524.2 L193.7 524.0 L194.9 523.8 L196.1 523.8 L197.3 523.5 L198.5 523.5 L199.7 523.6 L200.9 523.6 L202.1 523.7 L203.3 523.7 L204.5 523.6 L205.7 523.6 L206.9 523.6 L208.1 523.8 L209.3 524.0 L210.5 524.2 L211.7 524.5 L212.9 524.6 L214.1 524.9 L215.3 525.2 L216.5 525.1 L217.7 525.1 L218.9 525.0 L220.1 524.7 L221.3 524.4 L222.5 524.3 L223.7 524.3 L224.9 524.4 L226.1 524.6 L227.3 524.5 L228.5 524.4 L229.7 524.1 L230.9 523.8 L232.1 523.7 L233.3 523.6 L234.5 523.7 L235.7 523.6 L236.9 523.7 L238.1 523.8 L239.3 523.6 L240.5 523.6 L241.7 523.4 L242.9 523.1 L244.1 523.3 L245.3 523.5 L246.5 523.7 L247.7 524.0 L248.9 523.9 L250.1 523.7 L251.3 523.5 L252.5 523.3 L253.8 523.1 L255.0 523.2 L256.2 523.1 L257.4 523.0 L258.6 523.0 L259.8 522.9 L261.0 522.9 L262.2 523.2 L263.4 523.3 L264.6 523.6 L265.8 523.5 L267.0 523.4 L268.2 523.5 L269.4 523.6 L270.6 523.7 L271.8 523.8 L273.0 523.6 L274.2 523.4 L275.4 523.3 L276.6 523.1 L277.8 522.7 L279.0 522.3 L280.2 521.7 L281.4 521.3 L282.6 521.5 L283.8 521.9 L285.0 522.4 L286.2 522.8 L287.3 522.8 L288.5 522.6 L289.7 522.2 L290.9 521.8 L292.1 521.5 L293.3 521.2 L294.5 521.2 L295.7 521.2 L296.9 521.1 L298.1 521.0 L299.3 520.7 L300.5 520.3 L301.7 520.2 L302.9 520.3 L304.0 520.3 L305.2 520.2 L306.4 519.9 L307.6 519.5 L308.8 519.4 L309.9 519.2 L311.1 519.2 L312.3 519.0 L313.5 518.7 L314.6 518.2 L315.8 517.9 L317.0 517.5 L318.1 517.2 L319.3 517.0 L320.5 516.7 L321.7 516.5 L322.9 516.2 L324.1 516.0 L325.2 515.5 L326.4 515.0 L327.6 514.5 L328.7 514.0 L329.8 513.8 L330.9 513.5 L331.9 513.1 L332.8 512.5 L333.7 511.6 L334.6 510.8 L335.5 509.9 L336.4 509.2 L337.3 508.5 L338.3 508.0 L339.3 507.5 L340.4 506.8 L341.4 506.2 L342.5 505.4 L343.5 504.6 L344.5 503.9 L345.5 503.1 L346.4 502.4 L347.4 501.7 L348.4 501.0 L349.3 500.4 L350.2 499.7 L351.1 498.9 L351.9 497.9 L352.7 496.9 L353.5 496.0 L354.3 495.1 L355.1 494.2 L355.8 493.2 L356.6 492.2 L357.4 491.2 L358.2 490.3 L358.9 489.4 L359.7 488.6 L360.5 487.8 L361.3 487.0 L362.1 486.2 L362.9 485.2 L363.7 484.3 L364.5 483.3 L365.3 482.4 L366.0 481.5 L366.7 480.5 L367.5 479.5 L368.2 478.5 L368.9 477.5 L369.6 476.5 L370.3 475.5 L371.0 474.6 L371.6 473.6 L372.3 472.6 L373.0 471.6 L373.6 470.6 L374.2 469.6 L374.8 468.5 L375.4 467.5 L376.0 466.4 L376.6 465.4 L377.2 464.3 L377.8 463.3 L378.4 462.2 L379.0 461.2 L379.6 460.2 L380.2 459.1 L380.9 458.1 L381.5 457.1 L382.2 456.1 L382.8 455.1 L383.5 454.1 L384.1 453.1 L384.8 452.1 L385.5 451.1 L386.2 450.1 L386.8 449.1 L387.5 448.1 L388.3 447.1 L389.0 446.2 L389.7 445.3 L390.4 444.4 L391.2 443.4 L391.9 442.4 L392.6 441.4 L393.3 440.4 L393.9 439.4 L394.5 438.4 L395.2 437.4 L395.8 436.3 L396.4 435.3 L396.9 434.2 L397.5 433.2 L398.1 432.1 L398.6 431.0 L399.1 429.9 L399.6 428.9 L400.2 427.8 L400.7 426.7 L401.1 425.6 L401.6 424.5 L402.1 423.4 L402.5 422.2 L402.9 421.1 L403.3 420.0 L403.7 418.8 L404.0 417.7 L404.4 416.5 L404.8 415.4 L405.1 414.2 L405.5 413.1 L405.9 412.0 L406.4 410.9 L406.8 409.8 L407.3 408.6 L407.8 407.5 L408.3 406.4 L408.8 405.3 L409.4 404.3 L410.0 403.3 L410.7 402.3 L411.4 401.4 L412.2 400.5 L413.0 399.5 L413.8 398.5 L414.7 397.6 L415.6 396.9 L416.5 396.3 L417.5 395.7 L418.5 395.0 L419.5 394.0 L420.5 393.1 L421.5 392.1 L422.5 391.3 L423.4 390.9 L424.1 390.4 L424.6 389.4 L425.1 388.3 L425.6 387.2 L426.0 386.0 L426.4 384.9 L426.7 383.7 L427.1 382.5 L427.5 381.4 L427.9 380.2 L428.3 379.1 L428.6 378.0 L429.0 376.8 L429.4 375.7 L429.7 374.5 L430.1 373.4 L430.5 372.2 L430.9 371.1 L431.3 370.0 L431.7 368.9 L432.1 367.7 L432.6 366.6 L433.0 365.5 L433.5 364.4 L433.9 363.3 L434.4 362.2 L434.9 361.1 L435.3 360.0 L435.8 358.9 L436.3 357.8 L436.8 356.7 L437.3 355.6 L437.8 354.5 L438.3 353.4 L438.8 352.3 L439.3 351.6 L440.3 352.3 L441.3 353.0 L442.2 353.9 L443.0 354.7 L443.7 355.5 L444.3 356.4 L444.8 357.4 L445.3 358.5 L445.7 359.7 L446.1 360.8 L446.5 362.0 L446.9 363.1 L447.2 364.3 L447.6 365.4 L447.9 366.6 L448.2 367.8 L448.5 368.9 L448.8 370.1 L449.1 371.3 L449.4 372.4 L449.7 373.6 L450.0 374.8 L450.3 375.9 L450.5 377.1 L450.8 378.3 L451.0 379.5 L451.3 380.6 L451.5 381.8 L451.8 383.0 L452.0 384.2 L452.3 385.3 L452.5 386.5 L452.8 387.7 L453.0 388.9 L453.2 390.1 L453.5 391.2 L453.7 392.4 L453.9 393.6 L454.1 394.8 L454.3 396.0 L454.5 397.2 L454.6 398.4 L454.8 399.5 L454.9 400.7 L455.1 401.9 L455.2 403.1 L455.4 404.3 L455.5 405.5 L455.7 406.7 L455.9 407.9 L456.0 409.1 L456.2 410.3 L456.4 411.5 L456.5 412.7 L456.7 413.9 L456.9 415.0 L457.1 416.2 L457.2 417.4 L457.4 418.6 L457.6 419.8 L457.8 421.0 L457.9 422.2 L458.1 423.4 L458.3 424.6 L458.5 425.8 L458.6 426.9 L458.8 428.1 L459.0 429.3 L459.2 430.5 L459.3 431.7 L459.5 432.9 L459.7 434.1 L459.8 435.3 L460.0 436.5 L460.2 437.7 L460.4 438.9 L460.6 440.0 L460.8 441.2 L461.0 442.4 L461.2 443.6 L461.4 444.8 L461.7 445.9 L461.9 447.1 L462.2 448.3 L462.5 449.5 L462.8 450.6 L463.0 451.8 L463.3 453.0 L463.6 454.1 L463.9 455.3 L464.2 456.5 L464.5 457.6 L464.8 458.8 L465.1 460.0 L465.4 461.1 L465.7 462.3 L465.9 463.5 L466.2 464.7 L466.5 465.8 L466.8 467.0 L467.2 468.1 L467.5 469.3 L467.9 470.4 L468.2 471.6 L468.6 472.7 L469.0 473.9 L469.4 475.0 L469.9 476.1 L470.3 477.3 L470.8 478.4 L471.3 479.5 L471.7 480.6 L472.3 481.7 L472.8 482.8 L473.3 483.8 L473.9 484.9 L474.5 485.9 L475.1 486.9 L475.8 488.0 L476.5 489.0 L477.2 490.0 L477.9 491.0 L478.7 491.9 L479.5 492.7 L480.3 493.4 L481.2 494.1 L482.0 494.8 L482.9 495.7 L483.9 496.5 L484.9 497.5 L486.0 498.3 L487.1 498.9 L488.2 499.5 L489.3 499.7 L490.4 499.9 L491.5 500.2 L492.6 500.5 L493.8 501.1 L494.9 501.7 L496.1 502.0 L497.2 502.3 L498.4 502.3 L499.6 502.2 L500.8 502.3 L502.0 502.0 L503.2 501.8 L504.4 501.5 L505.6 501.1 L506.8 501.0 L508.0 500.9 L509.2 500.9 L510.4 500.9 L511.6 500.9 L512.8 501.1 L514.0 501.3 L515.2 501.4 L516.4 501.4 L517.6 501.3 L518.8 501.1 L520.0 501.0 L521.2 500.9 L522.4 501.0 L523.6 501.3 L524.8 501.5 L526.0 501.4 L527.2 501.3 L528.4 501.1 L529.6 501.0 L530.8 501.1 L532.0 501.1 L533.2 501.2 L534.4 501.3 L535.6 501.4 L536.8 501.6 L538.0 501.8 L539.2 502.0 L540.4 502.2 L541.5 502.4 L542.7 502.5 L543.9 502.5 L545.1 502.4 L546.3 502.3 L547.5 502.5 L548.7 502.8 L549.8 503.2 L551.0 503.7 L552.2 504.0 L553.4 504.1 L554.6 504.0 L555.7 504.1 L556.9 504.3 L558.1 504.7 L559.2 505.2 L560.4 505.5 L561.5 505.9 L562.7 506.2 L563.8 506.6 L565.0 507.0 L566.1 507.6 L567.3 508.3 L568.4 508.8 L569.6 509.2 L570.8 509.1 L572.0 508.8 L573.2 508.8 L574.4 509.0 L575.5 509.5 L576.7 510.0 L577.9 510.3 L579.1 510.3 L580.2 510.5 L581.4 510.8 L582.5 511.3 L583.6 512.0 L584.7 512.6 L585.9 513.4 L587.0 514.0 L588.1 514.5 L589.2 514.9 L590.3 515.1 L591.4 515.2 L592.6 515.4 L593.7 515.6 L594.9 516.0 L596.0 516.3 L597.2 516.7 L598.4 516.6 L599.6 516.5 L600.8 516.3 L602.0 516.3 L603.2 516.5 L604.4 516.8 L605.6 516.9 L606.8 516.7 L608.0 516.5 L609.2 516.2 L610.4 516.2 L611.6 516.4 L612.8 516.4 L614.1 516.8 L615.3 517.1 L616.5 517.3 L617.7 517.6 L618.9 517.8 L620.1 518.0 L621.3 518.3 L622.5 518.4 L623.7 518.4 L624.9 518.2 L626.1 518.1 L627.3 517.9 L628.5 517.8 L629.7 517.6 L630.9 517.3 L632.1 517.3 L633.3 517.5 L634.5 517.8 L635.7 518.1 L636.9 518.1 L638.1 518.0 L639.3 517.9 L640.5 518.0 L641.7 518.2 L642.9 518.5 L644.1 518.5 L645.3 518.5 L646.5 518.5 L647.7 518.3 L648.9 518.3 L650.1 518.3 L651.4 518.1 L652.6 518.2 L653.8 518.2 L655.0 518.1 L656.2 518.4 L657.4 518.6 L658.6 518.8 L659.8 519.0 L661.0 519.1 L662.2 519.0 L663.4 518.9 L664.6 518.8 L665.8 518.7 L667.0 518.7 L668.2 518.6 L669.4 518.6 L670.6 518.5 L671.8 518.4 L673.0 518.5 L674.2 518.6 L675.4 518.9 L676.6 519.2 L677.8 519.4 L679.0 519.5 L680.2 519.6 L681.4 519.5 L682.6 519.3 L683.8 519.0 L685.0 518.7 L686.2 518.6 L687.4 518.7 L688.6 519.2 L689.8 519.7 L691.0 520.1 L692.2 520.3 L693.4 520.5 L694.6 520.5 L695.8 520.5 L697.0 520.5 L698.2 520.1 L699.4 519.8 L700.6 519.3 L701.8 518.9 L703.0 519.0 L704.2 518.9 L705.4 519.1 L706.6 519.0 L707.8 518.7 L709.0 518.4 L710.2 517.8 L711.4 517.3 L712.6 517.0 L713.8 516.8 L715.0 517.0 L716.1 517.3 L717.3 517.5 L718.5 517.6 L719.7 517.7 L720.9 517.5 L722.1 517.8 L723.3 518.2 L724.5 518.9 L725.7 519.5 L726.8 519.9 L728.0 520.0 L729.2 520.1 L730.4 520.4 L731.6 520.5 L732.8 520.4 L734.0 520.3 L735.2 520.2 L736.4 520.4 L737.6 520.8 L738.8 521.2 L740.0 521.4 L741.2 521.4 L742.4 521.3 L743.6 521.3 L744.8 521.3 L746.0 521.3 L747.2 521.3 L748.4 521.2 L749.6 521.2 L750.8 521.3 L752.0 521.2 L753.2 521.2 L754.4 521.1 L755.6 521.1 L756.8 521.3 L758.0 521.6 L759.2 521.8 L760.4 521.9 L761.6 522.0 L762.8 522.0 L764.0 522.0 L765.2 521.9 L766.4 521.6 L767.6 521.5 L768.8 521.2 L770.0 521.1 L771.2 521.2 L772.4 521.3 L773.7 521.4 L774.9 521.5 L776.1 521.3 L777.3 521.3 L778.5 521.4 L779.7 521.4 L780.9 521.7 L782.1 521.7 L783.3 521.8 L784.5 521.7 L785.7 521.5 L786.9 521.4 L788.1 521.1 L789.3 521.0 L790.5 521.1 L791.7 521.1 L792.9 521.2 L794.1 521.4" stroke="#ff0000"/>
<g id="B03" stroke="#ff0000" stroke-dasharray="10.73 10.73">
<path d="M85.6 523.8 L86.8 523.6 L88.0 523.6 L89.2 523.5 L90.4 523.5 L91.7 523.6 L92.9 523.7 L94.1 523.8 L95.3 523.9 L96.5 523.9 L97.7 523.9 L98.9 523.8 L100.1 523.8 L101.3 523.9 L102.5 524.1 L103.7 524.1 L105.0 524.1 L106.2 524.1 L107.4 524.2 L108.6 524.4 L109.8 524.5 L111.0 524.7 L112.2 524.8 L113.4 524.9 L114.6 524.9 L115.8 524.7 L117.0 524.5 L118.2 524.1 L119.5 523.7 L120.7 523.5 L121.9 523.4 L123.1 523.6 L124.3 524.1 L125.5 524.5 L126.7 524.6 L127.9 524.5 L129.1 524.1 L130.3 523.6 L131.5 523.4 L132.7 523.2 L133.9 523.3 L135.1 523.4 L136.3 523.8 L137.6 524.3 L138.8 524.6 L140.0 524.9 L141.2 524.9 L142.4 524.6 L143.6 524.6 L144.8 524.7 L146.0 524.9 L147.2 525.2 L148.4 525.3 L149.6 525.1 L150.8 524.9 L152.0 524.5 L153.2 524.3 L154.4 524.1 L155.6 524.0 L156.8 524.0 L158.0 523.8 L159.2 523.8 L160.4 523.9 L161.6 523.8 L162.8 523.9 L164.1 523.8 L165.3 523.5 L166.5 523.5 L167.7 523.7 L168.9 523.8 L170.1 524.0 L171.3 524.0 L172.5 523.9 L173.7 523.8 L174.9 523.8 L176.1 523.7 L177.3 523.8 L178.5 524.0 L179.7 524.0 L180.9 524.0 L182.1 524.1 L183.3 524.0 L184.5 523.9 L185.7 523.8 L186.9 523.7 L188.1 523.6 L189.3 523.5 L190.5 523.5 L191.7 523.4 L192.9 523.3 L194.1 523.4 L195.3 523.5 L196.5 523.7 L197.7 524.1 L198.9 524.4 L200.1 524.6 L201.3 524.8 L202.5 524.8 L203.7 524.8 L204.9 524.7 L206.1 524.6 L207.3 524.6 L208.5 524.5 L209.7 524.7 L210.9 524.5 L212.1 524.4 L213.3 524.1 L214.5 523.8 L215.7 523.8 L216.9 523.6 L218.1 523.5 L219.3 523.6 L220.5 523.6 L221.7 523.7 L222.9 523.8 L224.1 523.7 L225.3 523.4 L226.5 523.1 L227.7 522.9 L228.9 522.9 L230.1 523.0 L231.3 523.3 L232.5 523.4 L233.7 523.5 L234.9 523.7 L236.1 523.7 L237.3 523.8 L238.5 523.9 L239.7 523.9 L240.9 524.0 L242.1 524.1 L243.3 524.0 L244.5 523.8 L245.7 523.5 L246.9 523.1 L248.1 523.0 L249.3 522.9 L250.5 522.8 L251.7 522.9 L252.9 522.8 L254.1 522.8 L255.3 522.6 L256.5 522.4 L257.7 522.5 L258.9 522.5 L260.1 522.7 L261.3 522.8 L262.5 522.7 L263.7 522.6 L264.9 522.7 L266.1 522.7 L267.3 522.9 L268.5 523.0 L269.7 523.1 L270.9 523.2 L272.0 523.3 L273.2 523.3 L274.4 523.1 L275.6 523.1 L276.8 522.8 L278.0 522.7 L279.2 522.9 L280.4 522.9 L281.6 522.9 L282.8 522.7 L284.0 522.4 L285.2 522.3 L286.4 522.2 L287.6 522.4 L288.8 522.5 L290.0 522.2 L291.2 521.9 L292.4 521.6 L293.6 521.3 L294.8 521.2 L296.0 521.1 L297.2 520.8 L298.4 520.6 L299.5 520.5 L300.7 520.4 L301.9 520.4 L303.1 520.2 L304.3 519.9 L305.5 519.6 L306.6 519.6 L307.8 519.8 L309.0 519.8 L310.2 519.8 L311.3 519.1 L312.5 518.4 L313.7 517.6 L314.8 516.9 L316.0 516.5 L317.2 516.2 L318.3 516.1 L319.5 516.1 L320.7 516.1 L321.9 516.0 L323.1 515.8 L324.3 515.5 L325.5 515.0 L326.6 514.6 L327.8 514.1 L328.9 513.5 L330.0 513.2 L331.0 512.7 L332.0 512.1 L332.9 511.4 L333.8 510.5 L334.6 509.5 L335.4 508.6 L336.3 507.7 L337.2 506.9 L338.1 506.2 L339.0 505.4 L340.0 504.6 L341.0 503.8 L342.0 503.0 L342.9 502.3 L343.9 501.6 L344.9 501.0 L345.8 500.3 L346.8 499.6 L347.8 498.8 L348.7 498.0 L349.6 497.2 L350.5 496.3 L351.3 495.5 L352.1 494.7 L352.9 493.8 L353.6 492.9 L354.4 492.0 L355.1 491.0 L355.8 490.1 L356.6 489.1 L357.2 488.1 L357.9 487.1 L358.6 486.1 L359.3 485.1 L359.9 484.1 L360.6 483.1 L361.2 482.0 L361.8 481.0 L362.4 479.9 L363.0 478.9 L363.5 477.8 L364.0 476.7 L364.5 475.6 L365.0 474.5 L365.4 473.4 L365.8 472.3 L366.3 471.2 L366.7 470.0 L367.1 468.9 L367.4 467.7 L367.8 466.6 L368.2 465.5 L368.5 464.3 L368.9 463.2 L369.2 462.0 L369.5 460.8 L369.8 459.7 L370.1 458.5 L370.4 457.4 L370.7 456.2 L371.0 455.0 L371.3 453.8 L371.6 452.7 L371.9 451.5 L372.2 450.3 L372.5 449.2 L372.7 448.0 L373.0 446.8 L373.2 445.6 L373.5 444.5 L373.7 443.3 L374.0 442.1 L374.2 440.9 L374.5 439.8 L374.8 438.6 L375.1 437.4 L375.4 436.3 L375.8 435.1 L376.2 434.0 L376.6 432.9 L377.0 431.7 L377.4 430.6 L377.8 429.5 L378.2 428.3 L378.6 427.1 L378.9 425.9 L379.2 424.7 L379.6 423.5 L380.0 422.4 L380.4 421.2 L380.8 420.2 L381.4 419.2 L382.1 418.3 L383.0 417.4 L384.0 416.7 L385.1 416.3 L386.2 415.9 L387.4 415.5 L388.5 415.4 L389.5 415.8 L390.5 416.5 L391.5 417.0 L392.6 417.2 L393.7 417.7 L394.9 417.7 L396.1 417.7 L397.1 417.5 L398.1 416.9 L399.0 416.0 L399.8 415.1 L400.5 414.2 L401.2 413.2 L401.9 412.2 L402.5 411.1 L403.1 410.1 L403.7 409.0 L404.2 407.9 L404.6 406.8 L405.0 405.7 L405.4 404.5 L405.7 403.4 L406.0 402.2 L406.3 401.1 L406.6 399.9 L406.9 398.7 L407.2 397.5 L407.4 396.4 L407.7 395.2 L408.0 394.0 L408.3 392.8 L408.6 391.7 L409.0 390.5 L409.3 389.4 L409.6 388.2 L410.0 387.1 L410.3 385.9 L410.7 384.8 L411.0 383.6 L411.4 382.5 L411.7 381.3 L412.1 380.2 L412.4 379.0 L412.8 377.9 L413.1 376.7 L413.5 375.5 L413.8 374.4 L414.2 373.2 L414.5 372.1 L414.8 370.9 L415.2 369.8 L415.5 368.6 L415.8 367.5 L416.1 366.3 L416.4 365.1 L416.7 364.0 L417.0 362.8 L417.4 361.6 L417.7 360.5 L418.0 359.3 L418.3 358.2 L418.6 357.0 L418.9 355.8 L419.2 354.7 L419.5 353.5 L419.8 352.3 L420.1 351.2 L420.4 350.0 L420.7 348.9 L421.1 347.7 L421.4 346.5 L421.7 345.4 L422.0 344.2 L422.4 343.1 L422.7 341.9 L423.1 340.8 L423.4 339.6 L423.7 338.5 L424.1 337.3" stroke-dashoffset="4.34"/>
<path d="M424.1 337.3 L424.4 336.1 L424.7 335.0 L425.1 333.8 L425.4 332.7 L425.7 331.5 L426.0 330.4 L426.3 329.2 L426.6 328.0 L426.9 326.9 L427.2 325.7 L427.5 324.5 L427.8 323.4 L428.0 322.2 L428.3 321.0 L428.5 319.8 L428.7 318.6 L429.0 317.5 L429.2 316.3 L429.5 315.1 L429.8 313.9 L430.0 312.8 L430.3 311.6 L430.6 310.4 L430.9 309.2 L431.2 308.0 L431.5 306.9 L431.9 305.7 L432.3 304.6 L432.7 303.5 L433.3 302.4 L433.9 301.3 L434.6 300.3 L435.4 299.2 L436.3 298.5 L437.4 297.9 L438.6 297.6 L439.2 299.0 L439.8 300.0 L440.3 301.1 L440.8 302.2 L441.2 303.4 L441.5 304.5 L441.7 305.6 L442.0 306.8 L442.2 308.0 L442.4 309.2 L442.5 310.3 L442.7 311.5 L442.9 312.7 L443.0 313.9 L443.2 315.2 L443.3 316.4 L443.4 317.6 L443.6 318.8 L443.8 320.0 L443.9 321.2 L444.1 322.4 L444.3 323.5 L444.4 324.7 L444.6 325.9 L444.8 327.1 L445.0 328.3 L445.1 329.5 L445.3 330.7 L445.5 331.9 L445.7 333.1 L445.8 334.3 L446.0 335.4 L446.1 336.6 L446.3 337.8 L446.5 339.0 L446.6 340.2 L446.8 341.4 L446.9 342.6 L447.1 343.8 L447.2 345.0 L447.3 346.2 L447.5 347.4 L447.6 348.6 L447.7 349.8 L447.8 351.0 L448.0 352.2 L448.1 353.4 L448.2 354.6 L448.3 355.7 L448.5 356.9 L448.6 358.1 L448.7 359.3 L448.8 360.5 L449.0 361.7 L449.1 362.9 L449.2 364.1 L449.4 365.3 L449.5 366.5 L449.6 367.7 L449.8 368.9 L449.9 370.1 L450.0 371.3 L450.1 372.5 L450.3 373.7 L450.4 374.9 L450.5 376.1 L450.7 377.3 L450.8 378.5 L450.9 379.7 L451.1 380.9 L451.2 382.1 L451.3 383.2 L451.4 384.4 L451.6 385.6 L451.7 386.8 L451.8 388.0 L451.9 389.2 L452.0 390.4 L452.2 391.6 L452.3 392.8 L452.4 394.0 L452.5 395.2 L452.6 396.4 L452.7 397.6 L452.8 398.8 L452.9 400.0 L453.0 401.2 L453.1 402.4 L453.2 403.6 L453.3 404.8 L453.4 406.0 L453.5 407.2 L453.6 408.4 L453.7 409.6 L453.8 410.8 L453.9 412.0 L454.0 413.2 L454.1 414.4 L454.2 415.6 L454.3 416.8 L454.4 418.0 L454.5 419.2 L454.7 420.4 L454.8 421.6 L454.9 422.8 L455.0 424.0 L455.2 425.2 L455.3 426.3 L455.5 427.5 L455.6 428.7 L455.8 429.9 L456.0 431.1 L456.2 432.3 L456.4 433.5 L456.6 434.7 L456.8 435.8 L457.0 437.0 L457.2 438.2 L457.5 439.4 L457.7 440.6 L457.9 441.8 L458.2 442.9 L458.4 444.1 L458.6 445.3 L458.9 446.5 L459.1 447.7 L459.3 448.8 L459.5 450.0 L459.7 451.2 L459.9 452.4 L460.2 453.6 L460.4 454.8 L460.6 455.9 L460.8 457.1 L461.0 458.3 L461.2 459.5 L461.4 460.7 L461.6 461.9 L461.8 463.1 L462.0 464.2 L462.2 465.4 L462.5 466.6 L462.7 467.8 L462.9 469.0 L463.1 470.1 L463.4 471.3 L463.6 472.5 L463.8 473.7 L464.1 474.9 L464.3 476.1 L464.6 477.2 L464.9 478.4 L465.2 479.6 L465.5 480.7 L465.9 481.8 L466.3 483.0 L466.8 484.1 L467.2 485.3 L467.7 486.4 L468.3 487.5 L468.8 488.6 L469.4 489.7 L470.0 490.7 L470.6 491.7 L471.3 492.7 L472.0 493.5 L472.6 494.4 L473.4 495.3 L474.2 496.2 L475.0 497.2 L475.9 498.0 L476.9 498.7 L477.8 499.4 L478.8 500.1 L479.8 500.9 L480.8 501.9 L481.8 502.7 L482.9 503.5 L483.9 504.3 L484.9 505.1 L486.0 505.7 L487.0 506.1 L488.1 506.3 L489.2 506.5 L490.3 507.0 L491.5 507.5 L492.6 508.1 L493.7 508.6 L494.9 509.1 L496.0 509.5 L497.1 509.8 L498.2 510.2 L499.4 510.5 L500.5 510.8 L501.6 511.1 L502.8 511.5 L503.9 511.9 L505.0 512.4 L506.2 513.1 L507.3 513.5 L508.5 514.1 L509.6 514.5 L510.8 514.4 L512.0 514.2 L513.1 513.9 L514.3 513.6 L515.5 513.7 L516.7 514.0 L517.9 514.3 L519.1 514.4 L520.4 514.4 L521.6 514.2 L522.8 514.2 L524.0 514.2 L525.2 514.2 L526.4 514.1 L527.6 514.0 L528.8 513.9 L529.9 514.0 L531.0 514.5 L532.1 515.3 L533.1 516.2 L534.2 517.0 L535.3 517.6 L536.4 517.7 L537.6 517.7 L538.7 517.7 L539.9 517.8 L541.1 517.9 L542.3 517.7 L543.6 517.3 L544.8 517.0 L546.0 516.6 L547.2 516.6 L548.4 516.6 L549.6 516.7 L550.8 516.9 L552.0 517.0 L553.2 517.3 L554.4 517.7 L555.6 517.8 L556.8 518.1 L558.0 518.0 L559.2 517.9 L560.4 518.1 L561.6 518.3 L562.8 518.7 L564.0 519.0 L565.2 519.1 L566.4 519.0 L567.6 518.8 L568.8 518.4 L570.0 518.0 L571.2 517.7 L572.4 517.5 L573.6 517.5 L574.8 517.7 L576.0 517.9 L577.2 518.0 L578.4 518.0 L579.6 517.9 L580.8 517.8 L582.0 517.8 L583.2 517.7 L584.4 517.8 L585.6 517.7 L586.8 517.6 L588.0 517.7 L589.2 517.9 L590.4 518.1 L591.6 518.1 L592.8 518.0 L594.0 517.5 L595.2 517.1 L596.4 516.7 L597.6 516.4 L598.8 516.3 L600.0 516.3 L601.2 516.5 L602.4 516.6 L603.6 516.8 L604.8 516.8 L606.0 516.8 L607.2 516.9 L608.4 517.0 L609.6 516.9 L610.8 516.6 L612.0 516.2 L613.2 515.8 L614.4 515.7 L615.6 515.7 L616.8 515.9 L618.0 515.7 L619.2 515.5 L620.4 515.4 L621.6 515.1 L622.8 515.0 L624.0 514.9 L625.2 514.6 L626.4 514.4 L627.6 514.2 L628.8 514.0 L630.0 513.7 L631.2 513.6 L632.4 513.7 L633.6 513.8 L634.8 513.9 L636.0 513.8 L637.2 513.6 L638.4 513.6 L639.6 513.7 L640.8 513.9 L642.0 513.9 L643.2 513.6 L644.4 513.1 L645.6 512.7 L646.8 512.4 L648.0 512.1 L649.2 512.1 L650.4 512.2 L651.6 512.5 L652.8 512.9 L654.0 513.2 L655.2 513.4 L656.4 513.4 L657.6 513.3 L658.8 513.5 L660.0 513.5 L661.2 513.7 L662.4 513.7 L663.6 513.6 L664.8 513.7 L666.0 513.8 L667.2 513.7 L668.4 513.8 L669.6 513.6 L670.8 513.5 L672.0 513.6 L673.2 513.7 L674.4 513.8 L675.6 513.9 L676.8 513.9 L678.0 514.0 L679.2 514.1 L680.4 514.2 L681.6 514.5 L682.8 514.7 L684.0 514.9 L685.2 515.1 L686.4 515.1 L687.6 515.1 L688.8 515.2 L690.0 515.3 L691.2 515.9 L692.4 516.2 L693.6 516.6 L694.8 516.7 L696.0 516.4 L697.2 516.3 L698.4 516.2 L699.5 516.3 L700.7 516.6 L701.9 517.0 L703.1 517.2 L704.3 517.2 L705.5 517.3 L706.7 517.4 L707.9 517.5 L709.1 517.8 L710.3 518.0 L711.4 518.1 L712.6 518.1 L713.8 518.1 L715.0 518.3 L716.2 518.4 L717.4 518.7 L718.6 518.9 L719.8 519.2 L721.0 519.4 L722.1 519.6 L723.3 519.9 L724.5 520.0 L725.7 520.2 L726.9 520.5 L728.1 520.6 L729.3 521.0 L730.5 521.1 L731.6 521.1 L732.8 521.3 L734.0 521.3 L735.2 521.5 L736.4 521.7 L737.6 521.8 L738.8 521.9 L740.0 522.0 L741.2 522.2 L742.4 522.3 L743.6 522.6 L744.8 522.7 L746.0 522.7 L747.2 522.8 L748.4 522.4 L749.6 522.2 L750.7 522.3 L751.9 522.2 L753.1 522.4 L754.3 522.6 L755.5 522.6 L756.7 522.7 L757.9 522.5 L759.1 522.0 L760.3 521.7 L761.5 521.7 L762.7 521.9 L763.9 522.4 L765.1 522.7 L766.3 522.7 L767.5 522.6 L768.7 522.4 L770.0 522.4 L771.2 522.4 L772.4 522.6 L773.6 522.6 L774.8 522.6 L776.0 522.8 L777.2 522.8 L778.4 522.9 L779.6 522.8 L780.8 522.7 L782.0 522.6 L783.2 522.5 L784.4 522.5 L785.6 522.3 L786.8 522.4 L788.0 522.2 L789.3 522.3 L790.5 522.3 L791.7 522.0 L792.9 522.0 L794.1 521.9" stroke-dashoffset="2.28"/>
</g>
<path id="B14" d="M85.6 524.1 L86.8 524.1 L88.0 524.5 L89.2 524.9 L90.4 525.0 L91.6 525.1 L92.8 524.7 L94.0 524.5 L95.2 524.6 L96.4 524.5 L97.6 524.7 L98.8 524.5 L100.0 524.1 L101.2 524.1 L102.4 523.9 L103.6 523.8 L104.8 524.0 L106.0 523.8 L107.2 523.7 L108.4 523.9 L109.6 523.9 L110.8 524.1 L112.0 524.2 L113.2 524.0 L114.4 523.9 L115.6 523.8 L116.8 523.7 L118.0 523.9 L119.2 524.0 L120.4 524.2 L121.6 524.4 L122.9 524.5 L124.1 524.6 L125.3 524.7 L126.5 524.8 L127.7 524.7 L128.9 524.4 L130.1 524.0 L131.3 523.7 L132.5 523.7 L133.7 523.9 L134.9 524.4 L136.1 524.5 L137.3 524.5 L138.5 524.5 L139.7 524.3 L140.9 524.3 L142.1 524.3 L143.3 524.0 L144.5 524.0 L145.7 524.0 L146.9 523.9 L148.1 524.1 L149.3 524.1 L150.5 524.2 L151.7 524.3 L152.9 524.2 L154.1 524.2 L155.3 523.9 L156.5 523.8 L157.7 523.6 L158.9 523.3 L160.1 523.1 L161.3 523.0 L162.5 523.3 L163.7 523.8 L164.9 524.4 L166.1 524.7 L167.3 524.9 L168.5 524.6 L169.7 524.4 L170.9 524.3 L172.1 524.3 L173.3 524.4 L174.5 524.5 L175.7 524.6 L176.9 524.6 L178.1 524.6 L179.3 524.6 L180.5 524.4 L181.7 524.2 L182.9 524.1 L184.1 524.0 L185.2 524.1 L186.4 524.1 L187.6 524.0 L188.8 524.0 L190.0 523.6 L191.2 523.6 L192.4 523.7 L193.6 523.8 L194.8 524.3 L196.0 524.5 L197.2 524.5 L198.4 524.6 L199.6 524.4 L200.8 524.3 L202.0 524.2 L203.2 524.2 L204.4 524.4 L205.6 524.3 L206.8 524.5 L208.0 524.6 L209.2 524.7 L210.4 524.7 L211.6 524.5 L212.8 524.0 L214.0 523.5 L215.2 523.2 L216.4 522.9 L217.6 522.8 L218.8 522.9 L220.0 523.0 L221.2 523.4 L222.4 523.6 L223.6 523.9 L224.8 524.0 L226.0 523.9 L227.2 523.8 L228.4 523.6 L229.6 523.4 L230.8 523.5 L232.0 523.6 L233.2 523.8 L234.4 524.0 L235.6 524.0 L236.8 523.9 L238.0 523.5 L239.2 523.0 L240.4 522.7 L241.6 522.3 L242.8 522.3 L244.0 522.2 L245.2 522.3 L246.4 522.3 L247.6 522.2 L248.8 522.0 L250.0 521.7 L251.1 521.6 L252.3 521.2 L253.5 521.2 L254.7 521.1 L255.9 520.9 L257.1 521.1 L258.3 520.9 L259.5 520.8 L260.7 520.7 L261.8 520.5 L263.0 520.3 L264.2 520.0 L265.4 519.9 L266.6 519.7 L267.7 519.7 L268.9 519.6 L270.1 519.2 L271.3 518.9 L272.4 518.7 L273.6 518.4 L274.7 518.1 L275.9 517.8 L277.1 517.3 L278.2 516.8 L279.4 516.3 L280.5 515.9 L281.7 515.5 L282.8 515.2 L284.0 514.8 L285.1 514.5 L286.3 514.2 L287.4 513.9 L288.5 513.6 L289.6 513.1 L290.7 512.7 L291.8 512.2 L292.9 511.6 L294.0 511.0 L295.1 510.4 L296.2 509.6 L297.3 508.8 L298.4 508.2 L299.5 507.7 L300.6 507.4 L301.7 507.3 L302.8 506.9 L303.9 506.7 L305.0 506.0 L306.1 505.4 L307.3 505.0 L308.4 504.3 L309.5 504.0 L310.6 503.6 L311.7 503.2 L312.8 502.9 L313.9 502.6 L315.0 502.3 L316.1 501.9 L317.1 501.2 L318.1 500.5 L319.1 499.8 L320.1 499.0 L321.0 498.3 L322.0 497.5 L322.9 496.7 L323.8 495.9 L324.7 495.1 L325.6 494.4 L326.5 493.6 L327.4 492.8 L328.3 491.9 L329.2 491.1 L330.1 490.1 L331.0 489.2 L331.9 488.4 L332.8 487.7 L333.7 486.9 L334.5 486.0 L335.3 485.2 L336.1 484.2 L336.9 483.3 L337.5 482.4 L338.2 481.4 L338.7 480.4 L339.3 479.3 L339.8 478.2 L340.4 477.1 L340.9 476.0 L341.4 474.9 L341.9 473.8 L342.4 472.7 L343.0 471.7 L343.6 470.6 L344.2 469.6 L344.8 468.5 L345.4 467.5 L346.0 466.5 L346.6 465.5 L347.3 464.5 L347.9 463.4 L348.6 462.4 L349.2 461.4 L349.9 460.4 L350.5 459.4 L351.2 458.4 L351.9 457.4 L352.6 456.4 L353.2 455.4 L353.9 454.4 L354.6 453.4 L355.2 452.4 L355.9 451.4 L356.5 450.4 L357.1 449.4 L357.7 448.3 L358.3 447.2 L358.8 446.2 L359.4 445.1 L359.9 444.0 L360.5 443.0 L361.1 441.9 L361.7 440.9 L362.3 439.9 L362.9 438.9 L363.6 437.9 L364.4 437.0 L365.1 436.1 L365.9 435.2 L366.7 434.3 L367.6 433.5 L368.4 432.6 L369.2 431.7 L370.1 430.9 L370.9 430.1 L371.7 429.3 L372.6 428.4 L373.5 427.5 L374.4 426.4 L375.4 425.6 L376.3 424.7 L377.1 423.8 L378.0 422.9 L378.8 422.0 L379.6 421.3 L380.3 420.5 L380.9 419.6 L381.6 418.7 L382.2 417.6 L382.9 416.6 L383.4 415.5 L384.0 414.4 L384.5 413.3 L385.0 412.2 L385.5 411.1 L385.9 410.0 L386.3 408.9 L386.7 407.8 L387.0 406.6 L387.3 405.5 L387.7 404.3 L388.0 403.1 L388.3 402.0 L388.5 400.8 L388.8 399.6 L389.1 398.4 L389.3 397.3 L389.6 396.1 L389.8 394.9 L390.1 393.7 L390.3 392.6 L390.5 391.4 L390.7 390.2 L390.9 389.0 L391.2 387.8 L391.4 386.7 L391.6 385.5 L391.9 384.3 L392.1 383.1 L392.3 382.0 L392.6 380.8 L392.8 379.6 L393.1 378.4 L393.3 377.3 L393.5 376.1 L393.8 374.9 L394.0 373.7 L394.3 372.6 L394.5 371.4 L394.8 370.2 L395.1 369.0 L395.3 367.9 L395.6 366.7 L395.8 365.5 L396.1 364.3 L396.3 363.2 L396.5 362.0 L396.7 360.8 L396.9 359.6 L397.1 358.4 L397.2 357.2 L397.4 356.1 L397.6 354.9 L397.7 353.7 L397.9 352.5 L398.0 351.3 L398.2 350.1 L398.3 348.9 L398.5 347.7 L398.6 346.5 L398.7 345.3 L398.9 344.1 L399.0 343.0 L399.1 341.8 L399.3 340.6 L399.4 339.4 L399.5 338.2 L399.7 337.0 L399.8 335.8 L399.9 334.6 L400.1 333.4 L400.2 332.2 L400.4 331.0 L400.5 329.8 L400.7 328.6 L400.8 327.5 L401.0 326.3 L401.1 325.1 L401.3 323.9 L401.4 322.7 L401.6 321.5 L401.8 320.3 L401.9 319.1 L402.1 317.9 L402.3 316.8 L402.4 315.6 L402.6 314.4 L402.8 313.2 L403.0 312.0 L403.1 310.8 L403.3 309.6 L403.4 308.4 L403.5 307.2 L403.7 306.0 L403.8 304.8 L404.0 303.6 L404.2 302.4 L404.4 301.2 L404.7 300.1 L405.1 299.0 L405.8 298.5 L406.4 299.1 L406.9 300.2 L407.5 301.3 L408.0 302.4 L408.4 303.5 L408.8 304.6 L409.0 305.8 L409.3 306.9 L409.5 308.1 L409.7 309.3 L409.9 310.5 L410.0 311.6 L410.2 312.9 L410.3 314.1 L410.4 315.3 L410.5 316.5 L410.6 317.7 L410.7 318.9 L410.8 320.1 L410.8 321.3 L410.9 322.5 L411.0 323.7 L411.0 324.9 L411.1 326.1 L411.1 327.3 L411.2 328.5 L411.3 329.6 L411.4 330.8 L411.5 332.0 L411.7 333.2 L411.8 334.4 L412.0 335.6 L412.2 336.8 L412.3 338.0 L412.5 339.2 L412.6 340.4 L412.7 341.6 L412.8 342.8 L412.9 344.0 L413.0 345.2 L413.0 346.4 L413.1 347.6 L413.1 348.8 L413.2 350.0 L413.3 351.2 L413.3 352.4 L413.4 353.6 L413.5 354.8 L413.6 356.0 L413.8 357.1 L413.9 358.3 L414.1 359.5 L414.3 360.7 L414.6 361.9 L414.8 363.1 L415.0 364.3 L415.2 365.4 L415.4 366.6 L415.5 367.8 L415.7 369.0 L415.8 370.2 L415.9 371.4 L415.9 372.6 L416.0 373.8 L416.1 375.0 L416.2 376.2 L416.2 377.4 L416.3 378.6 L416.4 379.8 L416.5 381.0 L416.5 382.2 L416.6 383.4 L416.7 384.6 L416.8 385.8 L416.9 387.0 L416.9 388.2 L417.0 389.4 L417.1 390.6 L417.2 391.8 L417.3 393.0 L417.4 394.2 L417.5 395.4 L417.6 396.6 L417.7 397.8 L417.8 399.0 L417.9 400.2 L418.0 401.4 L418.1 402.5 L418.2 403.7 L418.4 404.9 L418.5 406.1 L418.7 407.3 L418.9 408.5 L419.1 409.7 L419.3 410.8 L419.5 412.0 L419.8 413.2 L420.0 414.4 L420.2 415.6 L420.5 416.7 L420.7 417.9 L420.9 419.1 L421.1 420.3 L421.4 421.5 L421.6 422.7 L421.8 423.8 L422.0 425.0 L422.3 426.2 L422.5 427.4 L422.7 428.5 L423.0 429.7 L423.3 430.9 L423.5 432.1 L423.8 433.2 L424.1 434.4 L424.4 435.6 L424.7 436.7 L425.0 437.9 L425.3 439.1 L425.6 440.2 L425.9 441.4 L426.2 442.5 L426.6 443.7 L426.9 444.8 L427.3 446.0 L427.7 447.1 L428.0 448.2 L428.4 449.4 L428.8 450.5 L429.2 451.7 L429.6 452.8 L430.0 453.9 L430.4 455.1 L430.8 456.2 L431.2 457.3 L431.7 458.4 L432.1 459.6 L432.5 460.7 L432.9 461.8 L433.4 462.9 L433.8 464.0 L434.3 465.1 L434.7 466.3 L435.2 467.4 L435.6 468.5 L436.1 469.7 L436.5 470.8 L437.0 471.9 L437.5 473.0 L438.0 474.1 L438.5 475.2 L439.0 476.2 L439.6 477.2 L440.3 478.2 L441.0 479.1 L441.8 480.1 L442.5 481.1 L443.3 482.1 L444.2 483.0 L445.0 483.9 L445.8 484.8 L446.6 485.7 L447.4 486.6 L448.2 487.5 L448.9 488.4 L449.6 489.3 L450.3 490.3 L451.1 491.2 L451.8 492.1 L452.5 493.0 L453.3 493.9 L454.0 494.8 L454.8 495.7 L455.6 496.6 L456.4 497.5 L457.3 498.4 L458.1 499.2 L459.0 500.0 L459.9 500.8 L460.8 501.6 L461.7 502.7 L462.6 503.6 L463.6 504.5 L464.5 505.2 L465.5 505.8 L466.4 506.6 L467.4 507.1 L468.4 507.9 L469.4 508.4 L470.4 508.9 L471.4 509.7 L472.4 510.3 L473.5 511.1 L474.5 511.8 L475.6 512.3 L476.7 512.7 L477.9 512.9 L479.1 513.2 L480.2 513.4 L481.4 513.5 L482.6 513.7 L483.8 513.8 L485.0 513.9 L486.1 514.0 L487.3 514.2 L488.5 514.5 L489.6 514.9 L490.8 515.5 L491.9 515.9 L493.1 516.2 L494.3 516.6 L495.4 517.0 L496.6 517.6 L497.8 518.1 L498.9 518.7 L500.1 519.0 L501.3 518.9 L502.5 519.0 L503.7 518.9 L504.8 519.0 L506.0 519.0 L507.2 519.1 L508.4 519.3 L509.6 519.3 L510.8 519.7 L512.0 520.0 L513.2 520.1 L514.4 520.4 L515.6 520.4 L516.8 520.3 L518.0 520.5 L519.2 520.5 L520.4 520.7 L521.6 521.0 L522.8 521.2 L524.0 521.3 L525.2 521.4 L526.3 521.1 L527.5 520.9 L528.7 520.8 L529.9 520.7 L531.1 520.9 L532.3 521.1 L533.5 521.3 L534.7 521.5 L535.9 521.6 L537.1 521.9 L538.3 522.5 L539.5 523.0 L540.7 523.4 L541.9 523.5 L543.1 523.3 L544.3 522.9 L545.5 522.5 L546.7 522.2 L547.9 521.9 L549.1 521.8 L550.3 521.9 L551.5 522.0 L552.7 522.1 L553.9 522.2 L555.1 522.5 L556.3 522.7 L557.5 523.0 L558.7 522.9 L559.9 522.7 L561.1 522.3 L562.3 521.9 L563.5 522.0 L564.7 522.1 L565.9 522.5 L567.1 522.7 L568.3 522.7 L569.5 522.6 L570.7 522.3 L571.9 522.3 L573.1 522.2 L574.3 522.2 L575.5 522.4 L576.7 522.3 L577.9 522.2 L579.1 522.3 L580.3 522.2 L581.5 522.1 L582.7 522.1 L583.9 521.9 L585.1 521.8 L586.3 522.0 L587.5 522.1 L588.7 522.5 L589.9 523.0 L591.1 523.3 L592.3 523.5 L593.5 523.6 L594.7 523.5 L595.9 523.5 L597.1 523.5 L598.3 523.5 L599.5 523.5 L600.7 523.3 L601.9 523.0 L603.1 522.9 L604.3 522.7 L605.5 522.8 L606.7 522.9 L607.9 522.8 L609.1 523.0 L610.3 523.2 L611.5 523.5 L612.7 524.0 L613.9 524.3 L615.1 524.0 L616.3 523.4 L617.5 522.9 L618.7 522.3 L619.9 522.5 L621.1 522.7 L622.3 522.9 L623.5 523.2 L624.7 523.3 L625.9 523.3 L627.1 523.2 L628.3 523.3 L629.5 523.2 L630.8 523.2 L632.0 523.2 L633.2 523.0 L634.4 523.0 L635.6 522.6 L636.8 522.3 L638.0 522.3 L639.2 522.2 L640.4 522.4 L641.6 522.6 L642.8 522.6 L644.0 522.8 L645.2 522.9 L646.4 522.8 L647.6 522.7 L648.8 522.5 L650.0 522.4 L651.2 522.4 L652.4 522.4 L653.6 522.4 L654.8 522.4 L656.0 522.5 L657.2 522.7 L658.4 523.1 L659.6 523.5 L660.8 523.7 L662.0 523.8 L663.2 523.8 L664.4 523.6 L665.6 523.6 L666.8 523.4 L668.0 523.4 L669.2 523.5 L670.4 523.4 L671.6 523.6 L672.8 523.6 L674.0 523.3 L675.2 523.3 L676.4 522.9 L677.6 522.8 L678.8 522.9 L680.0 523.0 L681.2 523.3 L682.4 523.4 L683.6 523.2 L684.8 523.1 L686.0 522.9 L687.2 522.9 L688.4 522.9 L689.6 522.8 L690.8 522.7 L692.0 522.4 L693.2 522.2 L694.4 522.2 L695.6 522.3 L696.8 522.8 L698.0 523.4 L699.2 523.9 L700.4 524.1 L701.6 524.0 L702.8 523.8 L704.0 523.6 L705.2 523.8 L706.4 523.9 L707.6 524.1 L708.8 524.3 L710.0 524.0 L711.2 523.9 L712.4 523.9 L713.6 523.8 L714.8 523.9 L716.0 523.8 L717.2 523.6 L718.4 523.5 L719.6 523.2 L720.8 522.9 L722.0 522.8 L723.2 522.7 L724.4 522.9 L725.6 523.4 L726.8 523.5 L728.0 523.4 L729.2 523.1 L730.4 522.6 L731.6 522.5 L732.8 522.8 L734.0 523.1 L735.2 523.5 L736.4 523.8 L737.6 523.7 L738.8 523.6 L740.0 523.4 L741.2 523.1 L742.4 522.9 L743.6 522.9 L744.8 523.0 L746.0 523.2 L747.2 523.7 L748.4 524.0 L749.6 524.1 L750.8 524.0 L752.0 523.6 L753.2 523.3 L754.4 523.2 L755.6 523.5 L756.8 523.7 L758.0 523.9 L759.2 524.1 L760.4 523.9 L761.7 523.8 L762.9 523.7 L764.1 523.4 L765.3 523.2 L766.5 523.1 L767.7 523.1 L768.9 523.2 L770.1 523.2 L771.3 523.4 L772.5 523.6 L773.7 523.9 L774.9 523.9 L776.1 523.9 L777.3 523.6 L778.5 523.3 L779.7 523.3 L780.9 523.4 L782.1 523.7 L783.3 523.9 L784.5 524.0 L785.7 523.9 L786.9 523.8 L788.1 523.5 L789.3 523.3 L790.5 523.2 L791.7 523.2 L792.9 523.3 L794.1 523.4" stroke="#ff0000" stroke-dasharray="5.36 8.94 1.79 8.94" stroke-dashoffset="14.01"/>
<path d="M389.04 542.59 V20.05" stroke="#000" stroke-width="2.50" stroke-dasharray="11.15 10.31"/>
</g>
<path d="M146.23 540.80 v-7.20 M146.23 25.05 v7.20 M227.20 540.80 v-7.20 M227.20 25.05 v7.20 M308.17 540.80 v-7.20 M308.17 25.05 v7.20 M389.14 540.80 v-7.20 M389.14 25.05 v7.20 M470.11 540.80 v-7.20 M470.11 25.05 v7.20 M551.09 540.80 v-7.20 M551.09 25.05 v7.20 M632.06 540.80 v-7.20 M632.06 25.05 v7.20 M713.03 540.80 v-7.20 M713.03 25.05 v7.20 M794.00 540.80 v-7.20 M794.00 25.05 v7.20 M85.50 524.16 h7.20 M794.00 524.16 h-7.20 M85.50 440.98 h7.20 M794.00 440.98 h-7.20 M85.50 357.79 h7.20 M794.00 357.79 h-7.20 M85.50 274.61 h7.20 M794.00 274.61 h-7.20 M85.50 191.42 h7.20 M794.00 191.42 h-7.20 M85.50 108.24 h7.20 M794.00 108.24 h-7.20 M85.50 25.05 h7.20 M794.00 25.05 h-7.20" stroke="#000" stroke-width="0.80" fill="none"/>
<rect x="85.50" y="25.05" width="708.50" height="515.75" fill="none" stroke="#000" stroke-width="2.06"/>
<text font-size="27.74" stroke="#000" stroke-width="0.50"><tspan x="120.33" y="568.35" textLength="18.94" lengthAdjust="spacingAndGlyphs">−</tspan><tspan x="141.31" y="567.05" textLength="31.56" lengthAdjust="spacingAndGlyphs">60</tspan></text>
<text font-size="27.74" stroke="#000" stroke-width="0.50"><tspan x="201.30" y="568.35" textLength="18.94" lengthAdjust="spacingAndGlyphs">−</tspan><tspan x="222.53" y="567.05" textLength="31.30" lengthAdjust="spacingAndGlyphs">40</tspan></text>
<text font-size="27.74" stroke="#000" stroke-width="0.50"><tspan x="282.27" y="568.35" textLength="18.94" lengthAdjust="spacingAndGlyphs">−</tspan><tspan x="303.36" y="567.05" textLength="31.45" lengthAdjust="spacingAndGlyphs">20</tspan></text>
<text font-size="27.74" stroke="#000" stroke-width="0.50"><tspan x="381.91" y="567.05" textLength="14.64" lengthAdjust="spacingAndGlyphs">0</tspan></text>
<text font-size="27.74" stroke="#000" stroke-width="0.50"><tspan x="454.42" y="567.05" textLength="31.45" lengthAdjust="spacingAndGlyphs">20</tspan></text>
<text font-size="27.74" stroke="#000" stroke-width="0.50"><tspan x="535.54" y="567.05" textLength="31.30" lengthAdjust="spacingAndGlyphs">40</tspan></text>
<text font-size="27.74" stroke="#000" stroke-width="0.50"><tspan x="616.26" y="567.05" textLength="31.56" lengthAdjust="spacingAndGlyphs">60</tspan></text>
<text font-size="27.74" stroke="#000" stroke-width="0.50"><tspan x="697.39" y="567.05" textLength="31.39" lengthAdjust="spacingAndGlyphs">80</tspan></text>
<text font-size="27.74" stroke="#000" stroke-width="0.50"><tspan x="770.24" y="567.05" textLength="47.79" lengthAdjust="spacingAndGlyphs">100</tspan></text>
<text font-size="27.74" stroke="#000" stroke-width="0.50"><tspan x="63.04" y="531.66" textLength="14.64" lengthAdjust="spacingAndGlyphs">0</tspan></text>
<text font-size="27.74" stroke="#000" stroke-width="0.50"><tspan x="46.55" y="448.48" textLength="31.20" lengthAdjust="spacingAndGlyphs">10</tspan></text>
<text font-size="27.74" stroke="#000" stroke-width="0.50"><tspan x="46.31" y="365.29" textLength="31.45" lengthAdjust="spacingAndGlyphs">20</tspan></text>
<text font-size="27.74" stroke="#000" stroke-width="0.50"><tspan x="46.75" y="282.11" textLength="30.99" lengthAdjust="spacingAndGlyphs">30</tspan></text>
<text font-size="27.74" stroke="#000" stroke-width="0.50"><tspan x="46.45" y="198.92" textLength="31.30" lengthAdjust="spacingAndGlyphs">40</tspan></text>
<text font-size="27.74" stroke="#000" stroke-width="0.50"><tspan x="46.72" y="115.74" textLength="31.02" lengthAdjust="spacingAndGlyphs">50</tspan></text>
<text font-size="27.74" stroke="#000" stroke-width="0.50"><tspan x="46.20" y="32.55" textLength="31.56" lengthAdjust="spacingAndGlyphs">60</tspan></text>
<g fill="none" stroke-width="2.950">
<path d="M595.85 55.47 H631.2" stroke="#0000ff"/>
<path d="M595.85 89.65 H631.2" stroke="#000000"/>
<path d="M597.0 123.83 H630.0" stroke="#0000ff" stroke-dasharray="10.73 10.73"/>
<path d="M597.0 158.01 H630.0" stroke="#0000ff" stroke-dasharray="5.36 8.94 1.79 8.94"/>
<path d="M597.0 192.19 H630.0" stroke="#0000ff" stroke-dasharray="1.79 5.36"/>
<path d="M595.85 226.37 H631.2" stroke="#ff0000"/>
<path d="M597.0 260.55 H630.0" stroke="#ff0000" stroke-dasharray="10.73 10.73"/>
<path d="M597.0 294.73 H630.0" stroke="#ff0000" stroke-dasharray="5.36 8.94 1.79 8.94"/>
</g>
<text font-size="23.89" stroke="#000" stroke-width="0.50"><tspan x="656.01" y="63.77" textLength="62.11" lengthAdjust="spacingAndGlyphs">CD14</tspan><tspan x="719.32" y="63.77" textLength="7.60" lengthAdjust="spacingAndGlyphs">-</tspan><tspan x="727.67" y="63.77" textLength="43.53" lengthAdjust="spacingAndGlyphs">A05</tspan></text>
<text font-size="23.89" stroke="#000" stroke-width="0.50"><tspan x="656.01" y="97.95" textLength="62.11" lengthAdjust="spacingAndGlyphs">CD14</tspan><tspan x="719.32" y="97.95" textLength="7.60" lengthAdjust="spacingAndGlyphs">-</tspan><tspan x="727.67" y="97.95" textLength="44.02" lengthAdjust="spacingAndGlyphs">A08</tspan></text>
<text font-size="23.89" stroke="#000" stroke-width="0.50"><tspan x="656.01" y="132.13" textLength="62.11" lengthAdjust="spacingAndGlyphs">CD14</tspan><tspan x="719.32" y="132.13" textLength="7.60" lengthAdjust="spacingAndGlyphs">-</tspan><tspan x="727.67" y="132.13" textLength="43.59" lengthAdjust="spacingAndGlyphs">A11</tspan></text>
<text font-size="23.89" stroke="#000" stroke-width="0.50"><tspan x="656.01" y="166.31" textLength="62.11" lengthAdjust="spacingAndGlyphs">CD14</tspan><tspan x="719.32" y="166.31" textLength="7.60" lengthAdjust="spacingAndGlyphs">-</tspan><tspan x="727.67" y="166.31" textLength="43.44" lengthAdjust="spacingAndGlyphs">A12</tspan></text>
<text font-size="23.89" stroke="#000" stroke-width="0.50"><tspan x="656.01" y="200.49" textLength="62.11" lengthAdjust="spacingAndGlyphs">CD14</tspan><tspan x="719.32" y="200.49" textLength="7.60" lengthAdjust="spacingAndGlyphs">-</tspan><tspan x="727.67" y="200.49" textLength="43.53" lengthAdjust="spacingAndGlyphs">A15</tspan></text>
<text font-size="23.89" stroke="#000" stroke-width="0.50"><tspan x="656.01" y="234.67" textLength="62.11" lengthAdjust="spacingAndGlyphs">CD14</tspan><tspan x="719.32" y="234.67" textLength="7.60" lengthAdjust="spacingAndGlyphs">-</tspan><tspan x="727.80" y="234.67" textLength="43.35" lengthAdjust="spacingAndGlyphs">B02</tspan></text>
<text font-size="23.89" stroke="#000" stroke-width="0.50"><tspan x="656.01" y="268.85" textLength="62.11" lengthAdjust="spacingAndGlyphs">CD14</tspan><tspan x="719.32" y="268.85" textLength="7.60" lengthAdjust="spacingAndGlyphs">-</tspan><tspan x="727.79" y="268.85" textLength="43.68" lengthAdjust="spacingAndGlyphs">B03</tspan></text>
<text font-size="23.89" stroke="#000" stroke-width="0.50"><tspan x="656.01" y="303.03" textLength="62.11" lengthAdjust="spacingAndGlyphs">CD14</tspan><tspan x="719.32" y="303.03" textLength="7.60" lengthAdjust="spacingAndGlyphs">-</tspan><tspan x="727.78" y="303.03" textLength="43.89" lengthAdjust="spacingAndGlyphs">B14</tspan></text>
<text class="sf" font-size="28.78" stroke="#000" stroke-width="0.45"><tspan x="356.72" y="601.05" textLength="49.87" lengthAdjust="spacingAndGlyphs">RVs</tspan> <tspan x="415.16" y="601.05" textLength="49.09" lengthAdjust="spacingAndGlyphs">[km</tspan> <tspan x="473.73" y="601.05" textLength="12.29" lengthAdjust="spacingAndGlyphs">s</tspan><tspan font-size="19.0" stroke-width="0.15"><tspan x="488.36" y="591.75" textLength="12.67" lengthAdjust="spacingAndGlyphs">−</tspan><tspan x="502.76" y="591.15" textLength="6.89" lengthAdjust="spacingAndGlyphs">1</tspan></tspan><tspan x="513.64" y="601.05" textLength="8.15" lengthAdjust="spacingAndGlyphs">]</tspan></text>
<text class="sf" transform="translate(31.55 0) rotate(-90)" font-size="28.78" stroke="#000" stroke-width="0.45"><tspan x="-465.41" y="0" textLength="139.47" lengthAdjust="spacingAndGlyphs">Brightness</tspan> <tspan x="-316.88" y="0" textLength="169.80" lengthAdjust="spacingAndGlyphs">Temperature</tspan> <tspan x="-137.66" y="0" textLength="38.91" lengthAdjust="spacingAndGlyphs">[K]</tspan></text>
</svg></body></html>
